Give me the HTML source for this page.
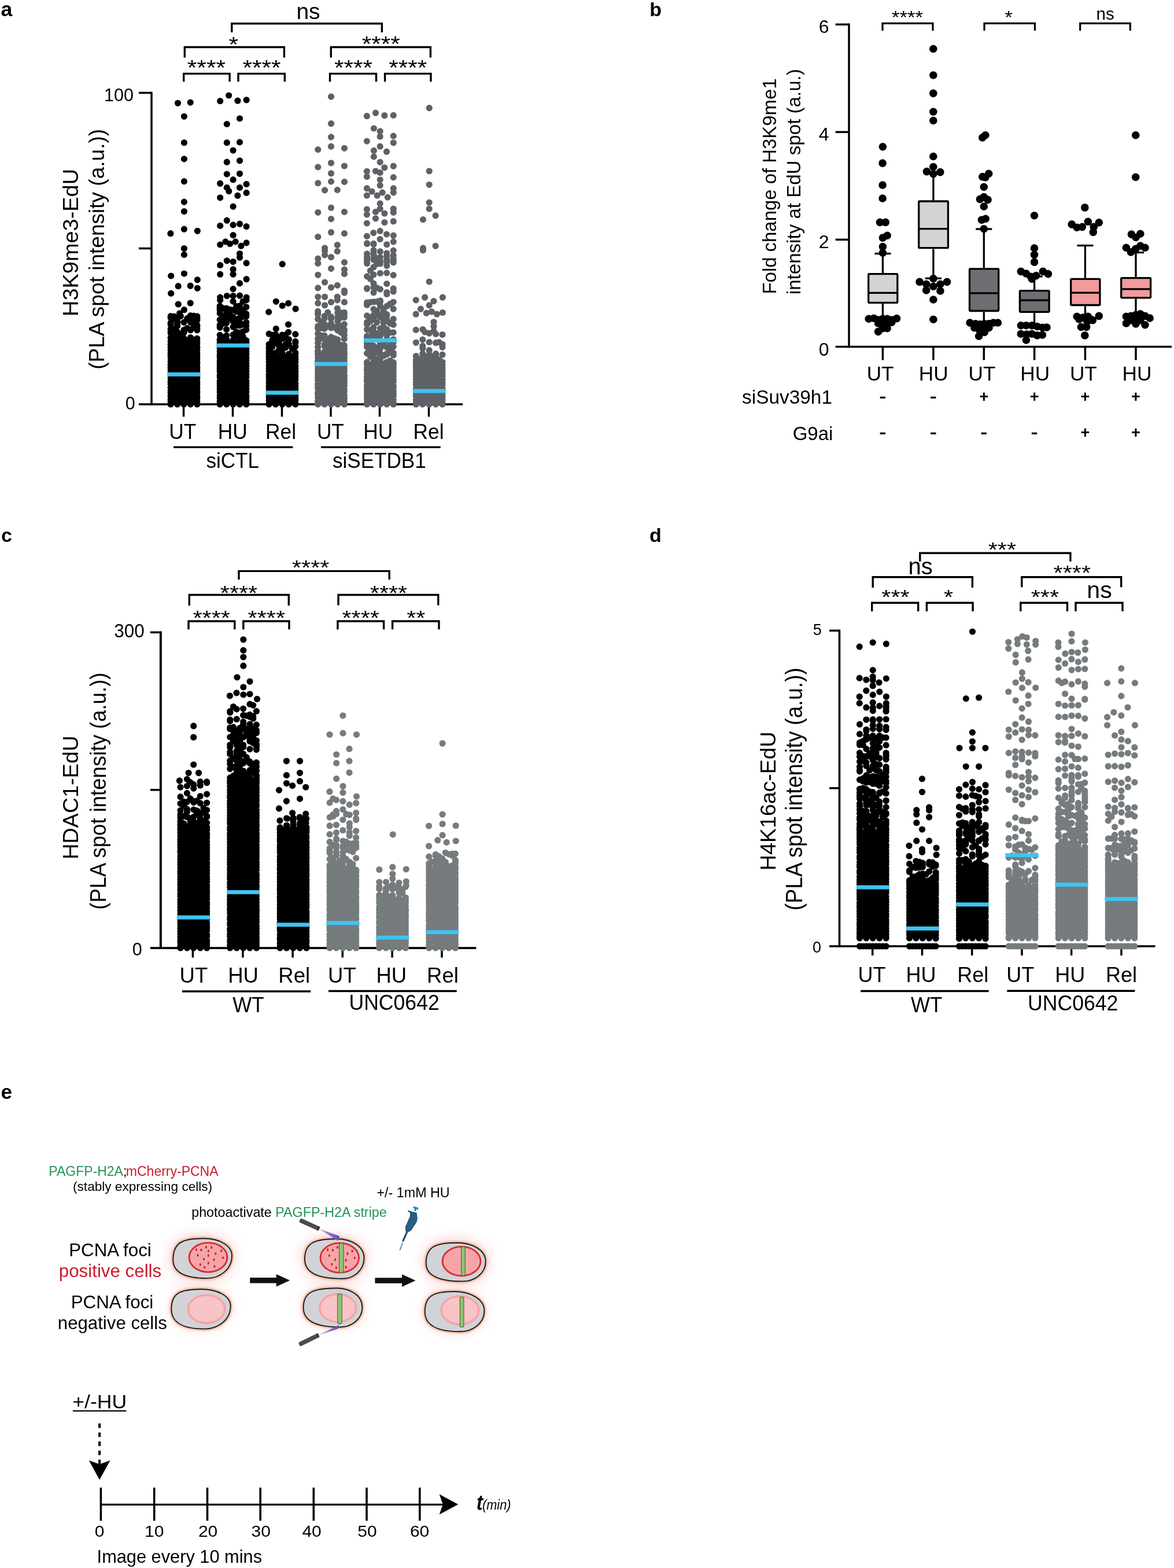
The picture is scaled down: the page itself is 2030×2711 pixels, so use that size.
<!DOCTYPE html>
<html><head><meta charset="utf-8"><title>Figure</title>
<style>html,body{margin:0;padding:0;background:#fff;}svg{display:block;}text{font-family:'Liberation Sans', Arial, sans-serif;}</style>
</head><body>
<svg width="2030" height="2711" viewBox="0 0 2030 2711">
<rect width="2030" height="2711" fill="#fff"/>
<text x="1.5" y="28" font-size="35.5" font-weight="bold" >a</text>
<line x1="262" y1="158.8" x2="262" y2="700.9" stroke="#000" stroke-width="3.5" stroke-linecap="butt"/>
<line x1="240" y1="160.5" x2="262" y2="160.5" stroke="#000" stroke-width="3.5" stroke-linecap="butt"/>
<line x1="240" y1="429.5" x2="262" y2="429.5" stroke="#000" stroke-width="3.5" stroke-linecap="butt"/>
<line x1="240" y1="699" x2="800" y2="699" stroke="#000" stroke-width="3.7" stroke-linecap="butt"/>
<line x1="317.5" y1="699" x2="317.5" y2="720.5" stroke="#000" stroke-width="3.5" stroke-linecap="butt"/>
<line x1="402.5" y1="699" x2="402.5" y2="720.5" stroke="#000" stroke-width="3.5" stroke-linecap="butt"/>
<line x1="487.5" y1="699" x2="487.5" y2="720.5" stroke="#000" stroke-width="3.5" stroke-linecap="butt"/>
<line x1="572" y1="699" x2="572" y2="720.5" stroke="#000" stroke-width="3.5" stroke-linecap="butt"/>
<line x1="656.5" y1="699" x2="656.5" y2="720.5" stroke="#000" stroke-width="3.5" stroke-linecap="butt"/>
<line x1="741.5" y1="699" x2="741.5" y2="720.5" stroke="#000" stroke-width="3.5" stroke-linecap="butt"/>
<text transform="translate(231,174.5) scale(1.000,1.050)" font-size="30.5" text-anchor="end" >100</text>
<text transform="translate(233.8,708.2) scale(1.000,1.050)" font-size="30.5" text-anchor="end" >0</text>
<text transform="translate(135,419.4) rotate(-90)" x="0" y="0" font-size="36" text-anchor="middle" fill="#000" textLength="255" lengthAdjust="spacingAndGlyphs">H3K9me3-EdU</text>
<text transform="translate(179.5,430.8) rotate(-90)" x="0" y="0" font-size="36" text-anchor="middle" fill="#000" textLength="416" lengthAdjust="spacingAndGlyphs">(PLA spot intensity (a.u.))</text>
<text transform="translate(315.7,758.6) scale(1.000,1.070)" font-size="35.3" text-anchor="middle" >UT</text>
<text transform="translate(402.3,758.6) scale(1.000,1.070)" font-size="35.3" text-anchor="middle" >HU</text>
<text transform="translate(485.5,758.6) scale(1.000,1.070)" font-size="35.3" text-anchor="middle" >Rel</text>
<text transform="translate(571.4,758.6) scale(1.000,1.070)" font-size="35.3" text-anchor="middle" >UT</text>
<text transform="translate(653.8,758.6) scale(1.000,1.070)" font-size="35.3" text-anchor="middle" >HU</text>
<text transform="translate(741,758.6) scale(1.000,1.070)" font-size="35.3" text-anchor="middle" >Rel</text>
<line x1="300" y1="773.2" x2="506.5" y2="773.2" stroke="#000" stroke-width="3.2" stroke-linecap="butt"/>
<line x1="555" y1="773.2" x2="761.8" y2="773.2" stroke="#000" stroke-width="3.2" stroke-linecap="butt"/>
<text transform="translate(402.2,809.4) scale(1.000,1.050)" font-size="35.1" text-anchor="middle" >siCTL</text>
<text transform="translate(655.8,809.4) scale(1.000,1.050)" font-size="35.1" text-anchor="middle" >siSETDB1</text>
<path d="M400.8 55.9V40.8H660.4V55.9" fill="none" stroke="#000" stroke-width="3.4" stroke-linejoin="miter"/>
<text x="533" y="32.6" font-size="39" text-anchor="middle" >ns</text>
<path d="M319.3 99.6V81.5H491.4V99.6" fill="none" stroke="#000" stroke-width="3.4" stroke-linejoin="miter"/>
<path d="M572.3 99.6V81.5H744.4V99.6" fill="none" stroke="#000" stroke-width="3.4" stroke-linejoin="miter"/>
<path d="M317.7 141.3V127.4H397.1V141.3" fill="none" stroke="#000" stroke-width="3.4" stroke-linejoin="miter"/>
<path d="M412 141.3V127.4H492.3V141.3" fill="none" stroke="#000" stroke-width="3.4" stroke-linejoin="miter"/>
<path d="M570.5 141.3V127.4H650.5V141.3" fill="none" stroke="#000" stroke-width="3.4" stroke-linejoin="miter"/>
<path d="M665.6 141.3V127.4H745V141.3" fill="none" stroke="#000" stroke-width="3.4" stroke-linejoin="miter"/>
<text transform="translate(403.8,89.9) scale(1.000,0.880)" font-size="42.5" text-anchor="middle" >*</text>
<text transform="translate(658.8,88.9) scale(1.000,0.880)" font-size="42.5" text-anchor="middle" >****</text>
<text transform="translate(356.9,129.7) scale(1.000,0.880)" font-size="42.5" text-anchor="middle" >****</text>
<text transform="translate(452.5,129.7) scale(1.000,0.880)" font-size="42.5" text-anchor="middle" >****</text>
<text transform="translate(611,129.7) scale(1.000,0.880)" font-size="42.5" text-anchor="middle" >****</text>
<text transform="translate(705.3,129.7) scale(1.000,0.880)" font-size="42.5" text-anchor="middle" >****</text>
<rect x="295.2" y="585" width="45.6" height="114" fill="#000"/>
<path d="M307.5 178.3h0M329.2 177.1h0M318.4 201.3h0M318.4 246.7h0M318.4 274.9h0M318.4 313.6h0M318.4 349.1h0M318.4 365.5h0M294.9 403.7h0M318.4 396.2h0M341.3 399.3h0M318.4 429.5h0M318.4 440.4h0M295.7 477h0M318.4 473h0M341.3 483.8h0M308.2 494.7h0M329.2 494.2h0M341.3 498.3h0M295.7 507.2h0M308.2 526h0M329.2 524h0M318.4 535.7h0M310.6 541.8h0M295.2 584.1h0M340.8 585.3h0M295.2 590.5h0M340.8 590.1h0M295.2 595.8h0M340.8 594.6h0M295.2 600.4h0M340.8 600.2h0M295.2 605.2h0M340.8 604.9h0M295.2 610.7h0M340.8 610.9h0M295.2 614.9h0M340.8 615.3h0M295.2 619.1h0M340.8 620.4h0M295.2 625.3h0M340.8 626h0M295.2 630.6h0M340.8 629.6h0M295.2 634.8h0M340.8 635.3h0M295.2 639h0M340.8 639.9h0M295.2 644.3h0M340.8 644.2h0M295.2 649.1h0M340.8 650.5h0M295.2 654.3h0M340.8 654.5h0M295.2 659.8h0M340.8 660.7h0M295.2 664.2h0M340.8 664.9h0M295.2 670.1h0M340.8 670.8h0M295.2 675.6h0M340.8 675.7h0M295.2 679.6h0M340.8 679.8h0M295.2 684.7h0M340.8 685.8h0M295.2 690.9h0M340.8 689.3h0M295.2 694.4h0M340.8 694.5h0M306.6 585h0M318 585h0M329.4 585h0M295.2 699h0M306.6 699h0M318 699h0M329.4 699h0M340.8 699h0M300.9 588.9h0M329.4 545.7h0M318 557.3h0M306.6 580.5h0M306.6 549.4h0M340.8 552.3h0M295.2 549.4h0M306.6 555.2h0M318 570.5h0M340.8 549.7h0M323.7 589.1h0M312.3 584.3h0M329.4 583.5h0M329.4 557.2h0M295.2 576.2h0M306.6 560.8h0M312.3 577.6h0M329.4 570.8h0M340.8 568.2h0M300.9 548.2h0M295.2 561.1h0M312.3 546.7h0M335.1 566.5h0M300.9 578.8h0M335.1 547.3h0M323.7 567.3h0M306.6 573.9h0M300.9 582h0M306.6 557.8h0M295.2 572.9h0M335.1 563.2h0M340.8 570.9h0M295.2 546.7h0M329.4 570.4h0M295.2 558.2h0M318 575.3h0M318 573.4h0M295.2 568.7h0M340.8 546.9h0M340.8 563.9h0M335.1 546.1h0M306.6 563.7h0M335.1 564.8h0M323.7 550.6h0M340.8 553.5h0M312.3 581.5h0M300.9 547.2h0M300.9 551h0M340.8 562.2h0M335.1 587.6h0M340.8 563.5h0M335.1 558.5h0M300.9 569.2h0M323.7 550.9h0M329.4 554.3h0" stroke="#000" stroke-width="11.2" stroke-linecap="round" fill="none"/>
<rect x="289.4" y="643.8" width="57.2" height="7" fill="#3ec3ef"/>
<rect x="380.2" y="588" width="45.6" height="111" fill="#000"/>
<path d="M395.7 165h0M380.7 174.7h0M410.9 174.2h0M426.1 172.8h0M414.5 204.9h0M392.3 214.5h0M392.3 246.7h0M414.5 245.9h0M403.1 260h0M392.3 280.2h0M414.5 277.8h0M392.3 301h0M414.5 300.3h0M403.1 310.7h0M380.7 317.2h0M426.1 318.4h0M392.3 324.4h0M395.7 330.5h0M414.5 324.4h0M426.1 333.4h0M380.7 341.8h0M410.9 338.2h0M403.1 357.1h0M392.3 381.2h0M380.7 390.4h0M403.1 388.9h0M414.5 387.2h0M426.1 391.6h0M403.1 406.6h0M380.7 423h0M389.9 417.9h0M397.6 421.5h0M407.2 417.9h0M416.9 425.2h0M426.1 419.9h0M414.5 438.5h0M414.5 445.2h0M392.3 450.8h0M403.1 452.5h0M380.7 458.5h0M426.1 454.9h0M403.1 465.7h0M380.7 474.2h0M403.1 474.2h0M414.5 489.9h0M426.1 482.7h0M403.1 499.6h0M380.7 514.1h0M392.3 511.6h0M403.1 511.6h0M414.5 511.2h0M426.1 514.1h0M380.7 518.9h0M426.1 518.9h0M380.2 587h0M425.8 588.5h0M380.2 593.1h0M425.8 592.4h0M380.2 597.9h0M425.8 598.9h0M380.2 602.2h0M425.8 603.6h0M380.2 607.9h0M425.8 608h0M380.2 613.7h0M425.8 612.8h0M380.2 618h0M425.8 618.4h0M380.2 624h0M425.8 622.7h0M380.2 628.7h0M425.8 628.4h0M380.2 633.3h0M425.8 632.8h0M380.2 637.7h0M425.8 637.1h0M380.2 642.3h0M425.8 642.1h0M380.2 648.5h0M425.8 647.5h0M380.2 652.3h0M425.8 652.2h0M380.2 658.7h0M425.8 658.7h0M380.2 663.3h0M425.8 662.6h0M380.2 667.5h0M425.8 667.6h0M380.2 672.9h0M425.8 672.3h0M380.2 677.9h0M425.8 677.5h0M380.2 683.9h0M425.8 683.9h0M380.2 688.1h0M425.8 687.5h0M380.2 693.9h0M425.8 692.6h0M380.2 697.7h0M425.8 697h0M391.6 588h0M403 588h0M414.4 588h0M380.2 699h0M391.6 699h0M403 699h0M414.4 699h0M425.8 699h0M403 536h0M420.1 581.9h0M403 565.2h0M380.2 579.3h0M391.6 580.1h0M403 521.1h0M420.1 583.8h0M403 552.3h0M414.4 549.4h0M391.6 533.1h0M414.4 562.9h0M391.6 569.4h0M391.6 558.4h0M385.9 587.2h0M380.2 552.8h0M425.8 542.7h0M425.8 557.9h0M414.4 532.2h0M380.2 533.2h0M391.6 591.1h0M391.6 535.9h0M408.7 552.3h0M420.1 539.8h0M391.6 591.4h0M420.1 521.3h0M391.6 541.7h0M414.4 535.5h0M408.7 529.7h0M408.7 534.4h0M397.3 550.7h0M391.6 546.3h0M385.9 559.2h0M385.9 548.1h0M403 548.2h0M385.9 583.4h0M391.6 545.2h0M414.4 557.5h0M408.7 562.7h0M414.4 538.3h0M380.2 532.5h0M380.2 566.2h0M420.1 547.5h0M391.6 586.7h0M408.7 538.6h0M425.8 570.1h0M414.4 577.6h0M420.1 537.4h0M414.4 575.3h0M385.9 533.1h0M425.8 557.3h0M408.7 574h0M391.6 541h0M385.9 589.2h0M425.8 547h0M397.3 537h0M397.3 535h0M414.4 539.8h0M414.4 550.3h0M380.2 541.7h0M408.7 581.1h0M385.9 587.6h0M414.4 551.1h0M425.8 530.8h0M380.2 536.3h0M414.4 528.9h0M380.2 588.3h0M425.8 543.7h0M397.3 544.1h0M391.6 547.9h0M420.1 561.2h0M380.2 529h0M380.2 562h0M403 590.3h0M385.9 551.9h0M425.8 563.6h0M403 578.7h0M380.2 565.2h0M403 555.9h0M420.1 573.3h0" stroke="#000" stroke-width="11.2" stroke-linecap="round" fill="none"/>
<rect x="374.4" y="593.8" width="57.2" height="7" fill="#3ec3ef"/>
<rect x="465.2" y="612" width="45.6" height="87" fill="#000"/>
<path d="M488.2 456.6h0M477.3 521.3h0M488.2 528.5h0M498.6 524.4h0M464.7 539.4h0M511.1 534h0M498.6 561h0M477.3 568.4h0M498.6 574.4h0M465.2 612.4h0M510.8 611.4h0M465.2 616.9h0M510.8 617.4h0M465.2 621.6h0M510.8 621.2h0M465.2 626.2h0M510.8 626.3h0M465.2 631.4h0M510.8 632.3h0M465.2 637h0M510.8 636.9h0M465.2 641.6h0M510.8 642.5h0M465.2 647.7h0M510.8 648h0M465.2 651.9h0M510.8 651.2h0M465.2 656.2h0M510.8 656.2h0M465.2 661.8h0M510.8 662.8h0M465.2 667.1h0M510.8 667.5h0M465.2 671.8h0M510.8 672.5h0M465.2 676.6h0M510.8 677.6h0M465.2 681.2h0M510.8 682.4h0M465.2 686.4h0M510.8 687.1h0M465.2 691.9h0M510.8 691.6h0M465.2 697.5h0M510.8 696.9h0M476.6 612h0M488 612h0M499.4 612h0M465.2 699h0M476.6 699h0M488 699h0M499.4 699h0M510.8 699h0M505.1 602.7h0M488 609.9h0M488 600.9h0M499.4 594.9h0M470.9 610.7h0M488 584.2h0M465.2 577.2h0M465.2 603.6h0M476.6 610.2h0M510.8 577.9h0M476.6 579.5h0M470.9 587.8h0M476.6 591.7h0M465.2 595.2h0M510.8 599h0M482.3 597.2h0M488 585.4h0M493.7 595.3h0M482.3 584.4h0M476.6 581h0M476.6 578.1h0M493.7 599.1h0M488 579h0M470.9 599.6h0M470.9 590.7h0M482.3 592.7h0M465.2 608.3h0M470.9 579.1h0M482.3 605.3h0M510.8 609.7h0M488 580h0M493.7 601h0M493.7 579h0M465.2 600.1h0M465.2 611.1h0M493.7 584.2h0M476.6 592.2h0M482.3 594.2h0M510.8 590.4h0M499.4 586.8h0M510.8 592.4h0" stroke="#000" stroke-width="11.2" stroke-linecap="round" fill="none"/>
<rect x="459.4" y="675.5" width="57.2" height="7" fill="#3ec3ef"/>
<rect x="549.7" y="608" width="45.6" height="91" fill="#5e6266"/>
<path d="M572.5 167.1h0M572.5 213.7h0M572.5 236.9h0M549.8 258.6h0M572.5 253.2h0M595.5 256.3h0M549.8 288.9h0M572.5 281.8h0M595.5 287h0M572.5 299.7h0M549.8 316.6h0M572.5 313.9h0M595.5 314.4h0M561.6 328.9h0M583.3 328.4h0M572.5 359.2h0M549.8 367.3h0M595.5 366.4h0M572.5 378.6h0M572.5 401.7h0M595.5 403.6h0M549.8 409.5h0M583.3 423.5h0M561.6 428.9h0M561.6 433.6h0M583.3 434.5h0M549.8 447.2h0M561.6 440.9h0M572.5 444.5h0M549.8 455.4h0M572.5 464.4h0M595.5 453.6h0M595.5 466.2h0M595.5 473.5h0M549.8 475.3h0M561.6 488h0M572.5 497h0M583.3 493.4h0M549.8 497.9h0M595.5 502.5h0M595.5 506.1h0M549.8 513.3h0M561.6 513.3h0M572.5 522.4h0M583.3 513.3h0M583.3 518.8h0M595.5 522.4h0M561.6 527.8h0M583.3 533.3h0M549.8 524.2h0M549.7 607h0M595.3 609h0M549.7 612.9h0M595.3 612.9h0M549.7 618.2h0M595.3 618.6h0M549.7 623.7h0M595.3 623.6h0M549.7 627.8h0M595.3 627.1h0M549.7 632.7h0M595.3 632.7h0M549.7 638.6h0M595.3 638h0M549.7 643.3h0M595.3 642.1h0M549.7 647.3h0M595.3 648.8h0M549.7 652.6h0M595.3 653.4h0M549.7 657.2h0M595.3 658.5h0M549.7 663.8h0M595.3 663.3h0M549.7 668.6h0M595.3 667.1h0M549.7 672.1h0M595.3 673.2h0M549.7 678.4h0M595.3 677.2h0M549.7 682.3h0M595.3 683.8h0M549.7 687.6h0M595.3 688.6h0M549.7 693.6h0M595.3 693.4h0M549.7 698.4h0M595.3 697.4h0M561.1 608h0M572.5 608h0M583.9 608h0M549.7 699h0M561.1 699h0M572.5 699h0M583.9 699h0M595.3 699h0M572.5 594.5h0M572.5 566.8h0M595.3 597.2h0M583.9 587.1h0M572.5 547.7h0M561.1 566.3h0M572.5 583.1h0M583.9 555.7h0M549.7 538.4h0M595.3 560.6h0M561.1 595.4h0M583.9 600.7h0M549.7 609.8h0M561.1 550.4h0M561.1 598.2h0M561.1 580.3h0M549.7 577h0M566.8 603.3h0M595.3 543.8h0M549.7 592.9h0M549.7 551.7h0M583.9 571.2h0M595.3 586h0M572.5 606.5h0M595.3 548.7h0M583.9 587.1h0M589.6 603.8h0M555.4 585.3h0M549.7 566.8h0M549.7 565.8h0M572.5 601.2h0M572.5 559.6h0M595.3 603.3h0M572.5 549.9h0M561.1 583.6h0M583.9 593.5h0M583.9 605.5h0M595.3 548.7h0M583.9 563.1h0M566.8 588.6h0M561.1 568.3h0M549.7 542h0M561.1 584.7h0M549.7 585.7h0M561.1 597.5h0M549.7 563.9h0M566.8 540.1h0M555.4 557.3h0M566.8 587.4h0M549.7 543.5h0M589.6 540.9h0M555.4 567.4h0M578.2 585h0M572.5 590.4h0M572.5 561.3h0M578.2 595h0M572.5 566.2h0M549.7 599.8h0M578.2 607.6h0M595.3 579.4h0M572.5 551.4h0M549.7 568.1h0M549.7 600.2h0M589.6 564.4h0M561.1 546.7h0M595.3 611.1h0M572.5 582.6h0M589.6 596.4h0M555.4 580h0M578.2 566.2h0M583.9 549.9h0M583.9 540.9h0M566.8 607.4h0M583.9 548.2h0M566.8 564.6h0M595.3 569.6h0M595.3 572.5h0M589.6 549.1h0M589.6 574.8h0M566.8 597.4h0M589.6 545.5h0M572.5 592.3h0M561.1 560.1h0M595.3 540.3h0" stroke="#5e6266" stroke-width="11.2" stroke-linecap="round" fill="none"/>
<rect x="543.9" y="625.8" width="57.2" height="7" fill="#3ec3ef"/>
<rect x="634.6" y="626" width="45.6" height="73" fill="#5e6266"/>
<path d="M634.4 200.7h0M649.5 195.2h0M664.9 199.7h0M680.3 199.4h0M646.4 222h0M657.2 226.9h0M657.2 236h0M680.3 235.1h0M634.4 244.1h0M680.3 246.8h0M657.2 253.2h0M646.4 260.4h0M668.5 262.2h0M646.4 270.9h0M657.2 280.4h0M664.9 289.8h0M680.3 287.2h0M634.4 296.3h0M649.5 295.8h0M657.2 298.5h0M634.4 305.4h0M680.3 306.6h0M657.2 310.8h0M657.2 320.6h0M634.4 325.7h0M680.3 325.7h0M643.1 331.1h0M661.2 332.9h0M680.3 332.9h0M634.4 338h0M652.2 338h0M670.3 341.1h0M657.2 351.9h0M657.2 361h0M634.4 361.9h0M649.5 366.4h0M664.9 369.1h0M680.3 361h0M680.3 367.3h0M634.4 370.9h0M649.5 377.8h0M664.9 384.5h0M680.3 382.7h0M634.4 386h0M645.8 402.6h0M657.2 399.4h0M668.5 405h0M680.3 407.2h0M634.4 408.4h0M657.2 413.5h0M680.3 418h0M634.6 626.2h0M680.2 626.5h0M634.6 630.3h0M680.2 630.6h0M634.6 636.4h0M680.2 636h0M634.6 640.6h0M680.2 640.9h0M634.6 645.9h0M680.2 647h0M634.6 651.4h0M680.2 650.4h0M634.6 655.7h0M680.2 656.3h0M634.6 660h0M680.2 660.1h0M634.6 666.5h0M680.2 667h0M634.6 671.6h0M680.2 670.2h0M634.6 676h0M680.2 676.5h0M634.6 680.3h0M680.2 680.4h0M634.6 685.8h0M680.2 685.3h0M634.6 690.2h0M680.2 691.3h0M634.6 695.7h0M680.2 696.6h0M646 626h0M657.4 626h0M668.8 626h0M634.6 699h0M646 699h0M657.4 699h0M668.8 699h0M680.2 699h0M657.4 596.6h0M668.8 588.5h0M646 597.8h0M657.4 548.1h0M657.4 529h0M657.4 620.5h0M646 629.6h0M657.4 472.4h0M657.4 579.6h0M657.4 434.9h0M668.8 554.9h0M668.8 443.5h0M646 582.3h0M668.8 600.5h0M657.4 500.1h0M646 421.3h0M680.2 591.4h0M646 552.1h0M634.6 597.1h0M646 521.9h0M668.8 471.9h0M668.8 529.4h0M657.4 567.9h0M634.6 524.8h0M657.4 451.2h0M668.8 576h0M634.6 557.2h0M646 505.9h0M668.8 508.6h0M646 461.8h0M646 627.9h0M663.1 629.1h0M634.6 581.2h0M651.7 601.3h0M668.8 422.7h0M668.8 587.2h0M680.2 551.5h0M657.4 611.2h0M651.7 627.4h0M640.3 581.5h0M634.6 594h0M646 565.9h0M680.2 522.3h0M668.8 490.5h0M663.1 629.5h0M680.2 628.4h0M634.6 421.5h0M680.2 574.8h0M668.8 459.4h0M646 611.5h0M663.1 567.5h0M634.6 527.4h0M634.6 600.1h0M663.1 573.1h0M657.4 589.3h0M646 534.6h0M663.1 565.3h0M640.3 601.2h0M646 432.8h0M646 449.1h0M634.6 444h0M674.5 525.3h0M646 573.4h0M634.6 498.3h0M668.8 611.5h0M668.8 580h0M674.5 526.2h0M651.7 585.3h0M663.1 557.6h0M680.2 610.2h0M646 565.9h0M674.5 607.9h0M680.2 448.3h0M634.6 545.9h0M634.6 582.6h0M663.1 565h0M634.6 569.8h0M663.1 553.1h0M640.3 595.3h0M651.7 576.6h0M646 474.8h0M651.7 621h0M657.4 519.8h0M640.3 522.5h0M668.8 569.5h0M657.4 591.6h0M674.5 594.1h0M674.5 559.2h0M646 438.1h0M634.6 527.3h0M634.6 477.9h0M646 622.2h0M634.6 610.9h0M640.3 604.3h0M657.4 545.8h0M646 439.8h0M680.2 534.2h0M640.3 598.5h0M680.2 450.1h0M680.2 498.9h0M640.3 548.8h0M674.5 605.1h0M651.7 602.4h0M634.6 499.3h0M634.6 451h0M680.2 441.8h0M663.1 539.4h0M668.8 546.3h0M634.6 455.5h0M646 490.1h0M680.2 599.3h0M651.7 521.5h0M646 599.8h0M657.4 444.6h0M634.6 447.4h0M657.4 580.5h0M680.2 475.7h0M640.3 555.8h0M646 621.3h0M640.3 468h0M680.2 586.8h0M640.3 594.5h0M646 610.1h0M646 582.6h0M646 544.6h0M668.8 626.4h0M634.6 560.7h0M668.8 437.8h0M668.8 449.1h0M680.2 450.9h0M680.2 504.1h0M651.7 609.7h0M663.1 555.1h0M640.3 482.2h0M651.7 446.7h0M646 497h0M674.5 625.7h0M634.6 583.5h0M680.2 453.7h0M657.4 602.8h0M668.8 505.5h0M657.4 455.7h0M663.1 534.7h0M634.6 420.7h0M674.5 575h0M640.3 616.6h0M668.8 452.9h0M651.7 557.3h0M674.5 589.9h0M651.7 545.2h0M680.2 614.1h0M674.5 623.5h0M651.7 456.3h0M651.7 537.7h0M634.6 591.2h0M651.7 497.7h0M674.5 606.3h0M651.7 623.8h0M634.6 438.8h0M663.1 596.7h0M680.2 504.1h0M663.1 615.2h0M646 422.4h0M663.1 544.9h0M657.4 598.2h0M657.4 521.7h0M640.3 570.9h0M680.2 561.2h0M668.8 544.3h0M657.4 612.1h0M674.5 595.8h0M663.1 548.9h0M668.8 572h0M680.2 433.1h0M668.8 553.1h0M646 446.1h0M668.8 612.9h0M668.8 543.7h0M663.1 614.4h0M651.7 539.5h0M634.6 523h0M674.5 624.7h0" stroke="#5e6266" stroke-width="11.2" stroke-linecap="round" fill="none"/>
<rect x="628.8" y="585" width="57.2" height="7" fill="#3ec3ef"/>
<rect x="719.4" y="626" width="45.6" height="73" fill="#5e6266"/>
<path d="M742.2 186.7h0M742.2 295.8h0M742.2 319.3h0M742.2 350.1h0M742.2 361h0M731.5 379.6h0M753.1 372.8h0M731.5 428.9h0M753.1 425.3h0M731.5 432.7h0M742.2 487h0M719.2 518.8h0M734.6 514.2h0M750 520.6h0M765.4 514.2h0M742.2 527.8h0M727.4 534.2h0M737.3 541.4h0M746.4 538.8h0M755.4 543.2h0M765.4 540.5h0M719.2 543.2h0M750 556.8h0M750 564h0M719.2 570.4h0M731 569.5h0M734.6 574h0M750 572.2h0M719.4 626.9h0M765 626h0M719.4 631.9h0M765 631.3h0M719.4 636h0M765 636.6h0M719.4 640.4h0M765 641.8h0M719.4 645.8h0M765 645.1h0M719.4 651.1h0M765 650.2h0M719.4 656.1h0M765 656.3h0M719.4 661.4h0M765 661.4h0M719.4 665h0M765 665h0M719.4 671.4h0M765 671.1h0M719.4 676.8h0M765 675.8h0M719.4 680.2h0M765 680h0M719.4 685.1h0M765 685.4h0M719.4 691.5h0M765 691.1h0M719.4 696.7h0M765 696.8h0M730.8 626h0M742.2 626h0M753.6 626h0M719.4 699h0M730.8 699h0M742.2 699h0M753.6 699h0M765 699h0M742.2 591.5h0M736.5 623.8h0M742.2 576.4h0M736.5 616.6h0M753.6 592.7h0M730.8 587.2h0M753.6 577.5h0M730.8 617.2h0M719.4 615.6h0M742.2 615.3h0M742.2 612.8h0M719.4 592.3h0M736.5 626.2h0M753.6 613.4h0M719.4 616.2h0M730.8 617.4h0M753.6 619h0M742.2 621.7h0M725.1 623.4h0M747.9 616.5h0M730.8 598.3h0M747.9 620.6h0M765 595.3h0M730.8 611.4h0M765 613.2h0M719.4 622.4h0M747.9 626.7h0M730.8 602.2h0M742.2 605.7h0M759.3 591.7h0M747.9 617.6h0M753.6 611.7h0M765 578.5h0M765 600.3h0M759.3 621.8h0" stroke="#5e6266" stroke-width="11.2" stroke-linecap="round" fill="none"/>
<rect x="713.6" y="672.5" width="57.2" height="7" fill="#3ec3ef"/>
<text x="1123.3" y="28" font-size="34" font-weight="bold" >b</text>
<line x1="1468" y1="40.6" x2="1468" y2="601.3" stroke="#000" stroke-width="3.5" stroke-linecap="butt"/>
<line x1="1444.7" y1="42.3" x2="1468" y2="42.3" stroke="#000" stroke-width="3.5" stroke-linecap="butt"/>
<line x1="1444.7" y1="228.3" x2="1468" y2="228.3" stroke="#000" stroke-width="3.5" stroke-linecap="butt"/>
<line x1="1444.7" y1="414.3" x2="1468" y2="414.3" stroke="#000" stroke-width="3.5" stroke-linecap="butt"/>
<line x1="1444.7" y1="599.5" x2="2026.2" y2="599.5" stroke="#000" stroke-width="3.5" stroke-linecap="butt"/>
<text x="1433.5" y="57.4" font-size="32" text-anchor="end" >6</text>
<text x="1433.5" y="243.4" font-size="32" text-anchor="end" >4</text>
<text x="1433.5" y="429.4" font-size="32" text-anchor="end" >2</text>
<text x="1433.5" y="614.6" font-size="32" text-anchor="end" >0</text>
<line x1="1526.4" y1="599.5" x2="1526.4" y2="622.5" stroke="#000" stroke-width="3.5" stroke-linecap="butt"/>
<text x="1522.1" y="658.4" font-size="35.2" text-anchor="middle" >UT</text>
<line x1="1613.9" y1="599.5" x2="1613.9" y2="622.5" stroke="#000" stroke-width="3.5" stroke-linecap="butt"/>
<text x="1614.2" y="658.4" font-size="35.2" text-anchor="middle" >HU</text>
<line x1="1701.3" y1="599.5" x2="1701.3" y2="622.5" stroke="#000" stroke-width="3.5" stroke-linecap="butt"/>
<text x="1698" y="658.4" font-size="35.2" text-anchor="middle" >UT</text>
<line x1="1788.6" y1="599.5" x2="1788.6" y2="622.5" stroke="#000" stroke-width="3.5" stroke-linecap="butt"/>
<text x="1789.7" y="658.4" font-size="35.2" text-anchor="middle" >HU</text>
<line x1="1876.4" y1="599.5" x2="1876.4" y2="622.5" stroke="#000" stroke-width="3.5" stroke-linecap="butt"/>
<text x="1873.4" y="658.4" font-size="35.2" text-anchor="middle" >UT</text>
<line x1="1964" y1="599.5" x2="1964" y2="622.5" stroke="#000" stroke-width="3.5" stroke-linecap="butt"/>
<text x="1965.9" y="658.4" font-size="35.2" text-anchor="middle" >HU</text>
<text x="1439" y="698.4" font-size="33.4" text-anchor="end" >siSuv39h1</text>
<text x="1440.4" y="761" font-size="33" text-anchor="end" >G9ai</text>
<text transform="translate(1526.4,695.3) scale(1.350,1.000)" font-size="27" text-anchor="middle" font-weight="bold" >-</text>
<text transform="translate(1526.4,756.5) scale(1.350,1.000)" font-size="27" text-anchor="middle" font-weight="bold" >-</text>
<text transform="translate(1613.9,695.3) scale(1.350,1.000)" font-size="27" text-anchor="middle" font-weight="bold" >-</text>
<text transform="translate(1613.9,756.5) scale(1.350,1.000)" font-size="27" text-anchor="middle" font-weight="bold" >-</text>
<text x="1701.3" y="695.3" font-size="27" text-anchor="middle" font-weight="bold" >+</text>
<text transform="translate(1701.3,756.5) scale(1.350,1.000)" font-size="27" text-anchor="middle" font-weight="bold" >-</text>
<text x="1788.6" y="695.3" font-size="27" text-anchor="middle" font-weight="bold" >+</text>
<text transform="translate(1788.6,756.5) scale(1.350,1.000)" font-size="27" text-anchor="middle" font-weight="bold" >-</text>
<text x="1876.4" y="695.3" font-size="27" text-anchor="middle" font-weight="bold" >+</text>
<text x="1876.4" y="756.5" font-size="27" text-anchor="middle" font-weight="bold" >+</text>
<text x="1964" y="695.3" font-size="27" text-anchor="middle" font-weight="bold" >+</text>
<text x="1964" y="756.5" font-size="27" text-anchor="middle" font-weight="bold" >+</text>
<path d="M1526 53.1V40.3H1613V53.1" fill="none" stroke="#000" stroke-width="3.2" stroke-linejoin="miter"/>
<path d="M1702 53.1V40.3H1789.4V53.1" fill="none" stroke="#000" stroke-width="3.2" stroke-linejoin="miter"/>
<path d="M1867.7 53.1V40.3H1954.3V53.1" fill="none" stroke="#000" stroke-width="3.2" stroke-linejoin="miter"/>
<text transform="translate(1569,41.2) scale(1.000,0.880)" font-size="35" text-anchor="middle" >****</text>
<text transform="translate(1744,41.2) scale(1.000,0.880)" font-size="35" text-anchor="middle" >*</text>
<text x="1911.2" y="34.4" font-size="29.5" text-anchor="middle" >ns</text>
<line x1="1526.4" y1="438.5" x2="1526.4" y2="472" stroke="#000" stroke-width="3.3" stroke-linecap="butt"/>
<line x1="1526.4" y1="525.1" x2="1526.4" y2="551" stroke="#000" stroke-width="3.3" stroke-linecap="butt"/>
<line x1="1512.4" y1="438.5" x2="1540.4" y2="438.5" stroke="#000" stroke-width="3.3" stroke-linecap="butt"/>
<line x1="1512.4" y1="551" x2="1540.4" y2="551" stroke="#000" stroke-width="3.3" stroke-linecap="butt"/>
<rect x="1501.7" y="473.6" width="50.1" height="49.8" rx="1.5" fill="#d2d3d5" stroke="#000" stroke-width="3.3" stroke-linejoin="round"/>
<line x1="1501.7" y1="506.4" x2="1551.8" y2="506.4" stroke="#000" stroke-width="3.3" stroke-linecap="butt"/>
<line x1="1613.9" y1="300" x2="1613.9" y2="346.4" stroke="#000" stroke-width="3.3" stroke-linecap="butt"/>
<line x1="1613.9" y1="430.4" x2="1613.9" y2="481.3" stroke="#000" stroke-width="3.3" stroke-linecap="butt"/>
<line x1="1599.9" y1="300" x2="1627.9" y2="300" stroke="#000" stroke-width="3.3" stroke-linecap="butt"/>
<line x1="1599.9" y1="481.3" x2="1627.9" y2="481.3" stroke="#000" stroke-width="3.3" stroke-linecap="butt"/>
<rect x="1588.7" y="348" width="50.7" height="80.7" rx="1.5" fill="#d2d3d5" stroke="#000" stroke-width="3.3" stroke-linejoin="round"/>
<line x1="1588.7" y1="395.7" x2="1639.3" y2="395.7" stroke="#000" stroke-width="3.3" stroke-linecap="butt"/>
<line x1="1701.3" y1="396" x2="1701.3" y2="463.3" stroke="#000" stroke-width="3.3" stroke-linecap="butt"/>
<line x1="1701.3" y1="539.2" x2="1701.3" y2="560" stroke="#000" stroke-width="3.3" stroke-linecap="butt"/>
<line x1="1687.3" y1="396" x2="1715.3" y2="396" stroke="#000" stroke-width="3.3" stroke-linecap="butt"/>
<line x1="1687.3" y1="560" x2="1715.3" y2="560" stroke="#000" stroke-width="3.3" stroke-linecap="butt"/>
<rect x="1676.5" y="464.9" width="50.2" height="72.6" rx="1.5" fill="#6d6e71" stroke="#000" stroke-width="3.3" stroke-linejoin="round"/>
<line x1="1676.5" y1="506.8" x2="1726.6" y2="506.8" stroke="#000" stroke-width="3.3" stroke-linecap="butt"/>
<line x1="1788.6" y1="478" x2="1788.6" y2="501" stroke="#000" stroke-width="3.3" stroke-linecap="butt"/>
<line x1="1788.6" y1="541" x2="1788.6" y2="563" stroke="#000" stroke-width="3.3" stroke-linecap="butt"/>
<line x1="1774.6" y1="478" x2="1802.6" y2="478" stroke="#000" stroke-width="3.3" stroke-linecap="butt"/>
<line x1="1774.6" y1="563" x2="1802.6" y2="563" stroke="#000" stroke-width="3.3" stroke-linecap="butt"/>
<rect x="1763.4" y="502.6" width="50.7" height="36.7" rx="1.5" fill="#6d6e71" stroke="#000" stroke-width="3.3" stroke-linejoin="round"/>
<line x1="1763.4" y1="519.2" x2="1814" y2="519.2" stroke="#000" stroke-width="3.3" stroke-linecap="butt"/>
<line x1="1876.4" y1="424.5" x2="1876.4" y2="480.8" stroke="#000" stroke-width="3.3" stroke-linecap="butt"/>
<line x1="1876.4" y1="529.2" x2="1876.4" y2="548" stroke="#000" stroke-width="3.3" stroke-linecap="butt"/>
<line x1="1862.4" y1="424.5" x2="1890.4" y2="424.5" stroke="#000" stroke-width="3.3" stroke-linecap="butt"/>
<line x1="1862.4" y1="548" x2="1890.4" y2="548" stroke="#000" stroke-width="3.3" stroke-linecap="butt"/>
<rect x="1851.7" y="482.4" width="50.2" height="45.1" rx="1.5" fill="#f29b9c" stroke="#000" stroke-width="3.3" stroke-linejoin="round"/>
<line x1="1851.7" y1="506.2" x2="1901.8" y2="506.2" stroke="#000" stroke-width="3.3" stroke-linecap="butt"/>
<line x1="1964" y1="436.5" x2="1964" y2="479" stroke="#000" stroke-width="3.3" stroke-linecap="butt"/>
<line x1="1964" y1="516.5" x2="1964" y2="546" stroke="#000" stroke-width="3.3" stroke-linecap="butt"/>
<line x1="1950" y1="436.5" x2="1978" y2="436.5" stroke="#000" stroke-width="3.3" stroke-linecap="butt"/>
<line x1="1950" y1="546" x2="1978" y2="546" stroke="#000" stroke-width="3.3" stroke-linecap="butt"/>
<rect x="1938.7" y="480.6" width="50.9" height="34.2" rx="1.5" fill="#f29b9c" stroke="#000" stroke-width="3.3" stroke-linejoin="round"/>
<line x1="1938.7" y1="499.8" x2="1989.5" y2="499.8" stroke="#000" stroke-width="3.3" stroke-linecap="butt"/>
<path d="M1526.4 253.8h0M1526.1 282.1h0M1526.1 320h0M1526.1 343h0M1521.5 384.4h0M1531.2 384.4h0M1526.4 411.1h0M1534.1 407.2h0M1526.4 426.6h0M1526.4 437.2h0M1502.2 551.2h0M1510.9 550.2h0M1518.6 553.1h0M1526.4 551.2h0M1534.1 551.2h0M1541.8 553.1h0M1550.5 550.6h0M1518.6 559h0M1526.4 560.9h0M1534.1 559h0M1541.8 557.1h0M1526.4 567.6h0M1534.1 567.6h0M1518.6 573.4h0M1613.8 84.5h0M1613.8 130h0M1613.8 161.4h0M1613.8 193.2h0M1613.8 208.5h0M1613.8 270.5h0M1613.8 288.6h0M1602.4 296.6h0M1613.8 300.7h0M1625.8 297.6h0M1590.1 487.4h0M1601.7 491.3h0M1613.9 481.6h0M1625.9 491.3h0M1637.5 487.4h0M1613.9 495.2h0M1601.7 501.9h0M1625.9 502.9h0M1613.9 518h0M1613.9 552.2h0M1698.8 237.9h0M1703.9 233.8h0M1698.8 305.6h0M1703.9 306.8h0M1709.7 300.2h0M1701.3 323.2h0M1694.5 344.4h0M1701.3 340.6h0M1708 345.4h0M1701.3 357h0M1697.4 380.2h0M1704.2 378.3h0M1701.3 395.7h0M1677.1 558h0M1686.8 559.9h0M1694.5 560.9h0M1702.2 559.9h0M1710 559.9h0M1717.7 558h0M1725.4 558h0M1684.8 566.7h0M1694.5 568.6h0M1702.2 567.6h0M1710 566.7h0M1702.2 574.4h0M1694.5 572.5h0M1692.6 581.2h0M1788.5 372.8h0M1788.5 429h0M1788.5 440.4h0M1788.5 453.1h0M1765.3 469.4h0M1774.4 473h0M1782.5 478.4h0M1784.3 482.1h0M1791.6 476.6h0M1803.4 469.4h0M1812.4 473.6h0M1765.3 562.7h0M1774.4 562.7h0M1784.3 562.7h0M1793.4 564.5h0M1802.5 566.3h0M1765.3 577.2h0M1784.3 577.2h0M1793.4 579.9h0M1802.5 579h0M1774.4 588h0M1810 566h0M1775 578h0M1875.8 358.9h0M1853.2 387.9h0M1862.2 393.3h0M1871.3 392.4h0M1881.3 383.3h0M1891.2 392.4h0M1900.3 384.8h0M1890.3 401.4h0M1862.2 547.3h0M1872.2 549.1h0M1881.3 547.3h0M1889.4 553.6h0M1900.3 546.4h0M1869.5 565.4h0M1878.6 565.4h0M1875.8 579.9h0M1866 552h0M1880 556h0M1963.7 233.7h0M1963.7 306.3h0M1956.4 405.1h0M1971.8 404.2h0M1964 410.5h0M1947.4 428.3h0M1955.5 435.9h0M1963.7 430.4h0M1971.8 425h0M1980 428.3h0M1947.4 547.3h0M1955.5 546.4h0M1963.7 544.6h0M1971.8 542.8h0M1980 546.4h0M1988.2 550h0M1947.4 559h0M1956.4 553.6h0M1963.7 555.4h0M1971.8 553.6h0M1980 561.8h0M1964 560h0" stroke="#000" stroke-width="13.6" stroke-linecap="round" fill="none"/>
<text transform="translate(1341.6,322) rotate(-90)" x="0" y="0" font-size="33.5" text-anchor="middle" fill="#000" textLength="373" lengthAdjust="spacingAndGlyphs">Fold change of H3K9me1</text>
<text transform="translate(1383.5,314.2) rotate(-90)" x="0" y="0" font-size="33.5" text-anchor="middle" fill="#000" textLength="390" lengthAdjust="spacingAndGlyphs">intensity at EdU spot (a.u.)</text>
<text x="2" y="937.3" font-size="34" font-weight="bold" >c</text>
<line x1="277.9" y1="1091.5" x2="277.9" y2="1640.9" stroke="#000" stroke-width="4" stroke-linecap="butt"/>
<line x1="259.8" y1="1093.3" x2="277.9" y2="1093.3" stroke="#000" stroke-width="3.5" stroke-linecap="butt"/>
<line x1="259.8" y1="1365.7" x2="277.9" y2="1365.7" stroke="#000" stroke-width="3.5" stroke-linecap="butt"/>
<line x1="259.8" y1="1639.1" x2="823.4" y2="1639.1" stroke="#000" stroke-width="3.6" stroke-linecap="butt"/>
<text transform="translate(249.8,1101.7) scale(1.000,1.050)" font-size="31.5" text-anchor="end" >300</text>
<text transform="translate(245.6,1652.1) scale(1.000,1.050)" font-size="30.5" text-anchor="end" >0</text>
<line x1="333.4" y1="1639" x2="333.4" y2="1655.6" stroke="#000" stroke-width="3.5" stroke-linecap="butt"/>
<line x1="419.9" y1="1639" x2="419.9" y2="1655.6" stroke="#000" stroke-width="3.5" stroke-linecap="butt"/>
<line x1="506.1" y1="1639" x2="506.1" y2="1655.6" stroke="#000" stroke-width="3.5" stroke-linecap="butt"/>
<line x1="592.3" y1="1639" x2="592.3" y2="1655.6" stroke="#000" stroke-width="3.5" stroke-linecap="butt"/>
<line x1="678.1" y1="1639" x2="678.1" y2="1655.6" stroke="#000" stroke-width="3.5" stroke-linecap="butt"/>
<line x1="764" y1="1639" x2="764" y2="1655.6" stroke="#000" stroke-width="3.5" stroke-linecap="butt"/>
<text x="334.9" y="1698.5" font-size="36.5" text-anchor="middle" >UT</text>
<text x="420.5" y="1698.5" font-size="36.5" text-anchor="middle" >HU</text>
<text x="508.7" y="1698.5" font-size="36.5" text-anchor="middle" >Rel</text>
<text x="591.4" y="1698.5" font-size="36.5" text-anchor="middle" >UT</text>
<text x="676.8" y="1698.5" font-size="36.5" text-anchor="middle" >HU</text>
<text x="765.5" y="1698.5" font-size="36.5" text-anchor="middle" >Rel</text>
<line x1="314.9" y1="1713.9" x2="537.1" y2="1713.9" stroke="#000" stroke-width="3.5" stroke-linecap="butt"/>
<line x1="568" y1="1713.4" x2="789.8" y2="1713.4" stroke="#000" stroke-width="3.5" stroke-linecap="butt"/>
<text transform="translate(429.5,1749.5) scale(1.000,1.040)" font-size="35" text-anchor="middle" >WT</text>
<text transform="translate(681.6,1746.4) scale(1.000,1.020)" font-size="35.6" text-anchor="middle" >UNC0642</text>
<text transform="translate(134.9,1378.8) rotate(-90)" x="0" y="0" font-size="37" text-anchor="middle" fill="#000" textLength="214" lengthAdjust="spacingAndGlyphs">HDAC1-EdU</text>
<text transform="translate(182.6,1367.8) rotate(-90) scale(1,1.070)" x="0" y="0" font-size="37" text-anchor="middle" fill="#000" textLength="410" lengthAdjust="spacingAndGlyphs">(PLA spot intensity (a.u.))</text>
<path d="M413 1002V987.4H673.2V1002" fill="none" stroke="#000" stroke-width="3.4" stroke-linejoin="miter"/>
<path d="M327.3 1047V1028.5H499.3V1047" fill="none" stroke="#000" stroke-width="3.4" stroke-linejoin="miter"/>
<path d="M585 1046.6V1028.5H757.8V1046.6" fill="none" stroke="#000" stroke-width="3.4" stroke-linejoin="miter"/>
<path d="M326 1088.2V1074H405.8V1088.2" fill="none" stroke="#000" stroke-width="3.4" stroke-linejoin="miter"/>
<path d="M420.8 1088.2V1074H500V1088.2" fill="none" stroke="#000" stroke-width="3.4" stroke-linejoin="miter"/>
<path d="M583.9 1088.2V1074H663.6V1088.2" fill="none" stroke="#000" stroke-width="3.4" stroke-linejoin="miter"/>
<path d="M678.6 1088.2V1074H759V1088.2" fill="none" stroke="#000" stroke-width="3.4" stroke-linejoin="miter"/>
<text transform="translate(537.2,993.2) scale(1.000,0.860)" font-size="41.4" text-anchor="middle" >****</text>
<text transform="translate(413,1037.3) scale(1.000,0.860)" font-size="41.4" text-anchor="middle" >****</text>
<text transform="translate(672,1037.3) scale(1.000,0.860)" font-size="41.4" text-anchor="middle" >****</text>
<text transform="translate(365.7,1080.3) scale(1.000,0.860)" font-size="41.4" text-anchor="middle" >****</text>
<text transform="translate(460.8,1080.3) scale(1.000,0.860)" font-size="41.4" text-anchor="middle" >****</text>
<text transform="translate(623.7,1080.3) scale(1.000,0.860)" font-size="41.4" text-anchor="middle" >****</text>
<text transform="translate(719.3,1080.3) scale(1.000,0.860)" font-size="41.4" text-anchor="middle" >**</text>
<rect x="312" y="1430" width="45.6" height="209" fill="#000"/>
<path d="M334.7 1255.2h0M334.7 1274.7h0M334.7 1322h0M326.1 1336.3h0M343.5 1336.3h0M310.4 1349.8h0M323.4 1347.3h0M346.2 1351.7h0M357.5 1351.7h0M312 1430.9h0M357.6 1430.1h0M312 1434.5h0M357.6 1435h0M312 1440h0M357.6 1440.9h0M312 1445.3h0M357.6 1445.2h0M312 1450.9h0M357.6 1449.2h0M312 1455.5h0M357.6 1455.3h0M312 1460.8h0M357.6 1460.8h0M312 1465.2h0M357.6 1465.4h0M312 1470.9h0M357.6 1470.4h0M312 1474.1h0M357.6 1474.6h0M312 1480.6h0M357.6 1479.7h0M312 1485.8h0M357.6 1484.8h0M312 1490.5h0M357.6 1491h0M312 1495.2h0M357.6 1494.4h0M312 1500.1h0M357.6 1499.7h0M312 1505.9h0M357.6 1504.9h0M312 1509.7h0M357.6 1510h0M312 1515.4h0M357.6 1515.7h0M312 1520.3h0M357.6 1520h0M312 1525.4h0M357.6 1524.4h0M312 1530.3h0M357.6 1530.7h0M312 1535.6h0M357.6 1535h0M312 1539.4h0M357.6 1540.9h0M312 1545.7h0M357.6 1545.1h0M312 1549.3h0M357.6 1549.3h0M312 1555.6h0M357.6 1554.5h0M312 1559.5h0M357.6 1560.9h0M312 1564.3h0M357.6 1564.7h0M312 1569.2h0M357.6 1570.3h0M312 1574.3h0M357.6 1575.4h0M312 1580h0M357.6 1580h0M312 1585.4h0M357.6 1584h0M312 1590.4h0M357.6 1589.3h0M312 1595.3h0M357.6 1595.4h0M312 1599.3h0M357.6 1600.4h0M312 1605.2h0M357.6 1604.5h0M312 1610.3h0M357.6 1609.2h0M312 1614.8h0M357.6 1615.9h0M312 1620.4h0M357.6 1619.3h0M312 1626h0M357.6 1625.7h0M312 1629.8h0M357.6 1629.4h0M312 1635.4h0M357.6 1634h0M323.4 1430h0M334.8 1430h0M346.2 1430h0M312 1639h0M323.4 1639h0M334.8 1639h0M346.2 1639h0M357.6 1639h0M329.1 1420.7h0M334.8 1387.3h0M334.8 1399.9h0M312 1427.4h0M323.4 1398.9h0M334.8 1363.1h0M346.2 1388.7h0M334.8 1420.6h0M329.1 1431.7h0M351.9 1420.6h0M346.2 1405.9h0M334.8 1412.4h0M312 1401.2h0M323.4 1412.6h0M357.6 1353.4h0M346.2 1417.9h0M312 1426.8h0M357.6 1400.5h0M312 1408.5h0M346.2 1358h0M351.9 1419.9h0M351.9 1423.3h0M357.6 1388h0M357.6 1430.6h0M317.7 1411.2h0M334.8 1356.4h0M351.9 1404.4h0M340.5 1430.3h0M312 1413.5h0M317.7 1430.9h0M357.6 1410.8h0M357.6 1412.4h0M346.2 1425.3h0M329.1 1429.1h0M323.4 1371.4h0M323.4 1386.5h0M329.1 1414.7h0M312 1389.3h0M329.1 1424.6h0M346.2 1408.4h0M323.4 1434h0M351.9 1397.2h0M329.1 1380.6h0M323.4 1399.5h0M346.2 1428.4h0M340.5 1401.5h0M329.1 1352.7h0M312 1361h0M346.2 1414.7h0M317.7 1423.9h0M340.5 1407.8h0M334.8 1385.3h0M340.5 1384.5h0M312 1425.3h0M340.5 1404.9h0M312 1419.9h0M340.5 1422.9h0M346.2 1376.5h0M317.7 1392.9h0M317.7 1386.1h0M323.4 1359h0M357.6 1422.4h0M357.6 1373.1h0M312 1377.7h0M312 1427h0M323.4 1403.6h0" stroke="#000" stroke-width="11.2" stroke-linecap="round" fill="none"/>
<rect x="306.2" y="1582.7" width="57.2" height="7" fill="#3ec3ef"/>
<rect x="397.8" y="1345" width="45.6" height="294" fill="#000"/>
<path d="M420.8 1105.8h0M420.8 1124.4h0M420.8 1136h0M420.8 1151.2h0M410 1171h0M432 1178.3h0M420.8 1188h0M397.4 1203h0M409 1198h0M420.8 1201h0M432 1200h0M444.5 1208.5h0M397.8 1344.6h0M443.4 1344.8h0M397.8 1350.4h0M443.4 1350.7h0M397.8 1354.3h0M443.4 1354h0M397.8 1359.4h0M443.4 1360.1h0M397.8 1365.7h0M443.4 1364.7h0M397.8 1369.7h0M443.4 1369.7h0M397.8 1375.4h0M443.4 1375.7h0M397.8 1379.3h0M443.4 1381h0M397.8 1385.1h0M443.4 1384.5h0M397.8 1390.2h0M443.4 1390.6h0M397.8 1395h0M443.4 1394.1h0M397.8 1400.3h0M443.4 1400.3h0M397.8 1405.1h0M443.4 1405.4h0M397.8 1410.1h0M443.4 1409.7h0M397.8 1415.1h0M443.4 1414.5h0M397.8 1419.5h0M443.4 1420.1h0M397.8 1424.2h0M443.4 1425.6h0M397.8 1431h0M443.4 1429.3h0M397.8 1435.3h0M443.4 1434.8h0M397.8 1441h0M443.4 1440.9h0M397.8 1445.2h0M443.4 1444.2h0M397.8 1450.1h0M443.4 1449.4h0M397.8 1455.6h0M443.4 1454.5h0M397.8 1460.2h0M443.4 1460.5h0M397.8 1465.8h0M443.4 1465.7h0M397.8 1470.7h0M443.4 1470.6h0M397.8 1475.1h0M443.4 1474.7h0M397.8 1480.4h0M443.4 1479.9h0M397.8 1485.7h0M443.4 1484.4h0M397.8 1490.8h0M443.4 1490.8h0M397.8 1494.8h0M443.4 1494.4h0M397.8 1500.6h0M443.4 1499.1h0M397.8 1505.3h0M443.4 1504h0M397.8 1510.6h0M443.4 1510.8h0M397.8 1515.3h0M443.4 1514.7h0M397.8 1519.5h0M443.4 1519.8h0M397.8 1525.8h0M443.4 1524.8h0M397.8 1530.3h0M443.4 1530.7h0M397.8 1534.1h0M443.4 1534h0M397.8 1540.4h0M443.4 1539.5h0M397.8 1544.7h0M443.4 1544.7h0M397.8 1549.9h0M443.4 1549.6h0M397.8 1555.8h0M443.4 1555h0M397.8 1561h0M443.4 1560.6h0M397.8 1565h0M443.4 1565.9h0M397.8 1570.5h0M443.4 1570.9h0M397.8 1574.3h0M443.4 1574.6h0M397.8 1579.2h0M443.4 1579h0M397.8 1585.7h0M443.4 1584.5h0M397.8 1589.6h0M443.4 1590.2h0M397.8 1595.9h0M443.4 1594.4h0M397.8 1599.1h0M443.4 1600.6h0M397.8 1605.7h0M443.4 1605.5h0M397.8 1609.1h0M443.4 1610.5h0M397.8 1614.9h0M443.4 1614.9h0M397.8 1619.3h0M443.4 1620.9h0M397.8 1625.4h0M443.4 1625.6h0M397.8 1629.3h0M443.4 1630.8h0M397.8 1634.3h0M443.4 1634.6h0M409.2 1345h0M420.6 1345h0M432 1345h0M397.8 1639h0M409.2 1639h0M420.6 1639h0M432 1639h0M443.4 1639h0M420.6 1317.3h0M420.6 1274.5h0M432 1316.9h0M420.6 1225.3h0M409.2 1313.2h0M409.2 1336.8h0M420.6 1259.4h0M420.6 1291.5h0M432 1295.2h0M420.6 1344.7h0M420.6 1248h0M443.4 1318.4h0M432 1281.7h0M409.2 1243.3h0M420.6 1332.8h0M409.2 1288.4h0M432 1332.5h0M409.2 1226.1h0M397.8 1292.1h0M443.4 1296.1h0M443.4 1340.1h0M432 1264.9h0M397.8 1315.2h0M432 1235.7h0M409.2 1339.6h0M409.2 1330.9h0M443.4 1332.4h0M437.7 1350.9h0M403.5 1311.7h0M432 1342.1h0M443.4 1280.3h0M432 1340.4h0M420.6 1288h0M409.2 1302h0M432 1252h0M409.2 1264h0M426.3 1311.8h0M426.3 1315.3h0M437.7 1283.4h0M443.4 1345.4h0M397.8 1321.1h0M443.4 1253.1h0M409.2 1277.3h0M397.8 1258.1h0M437.7 1260.6h0M409.2 1288.2h0M414.9 1312.9h0M397.8 1329.3h0M443.4 1229.7h0M403.5 1326.3h0M403.5 1311.9h0M437.7 1325.6h0M437.7 1284.6h0M426.3 1342.4h0M443.4 1325.3h0M432 1331.6h0M420.6 1303.4h0M414.9 1290.1h0M397.8 1274.4h0M443.4 1267.3h0M432 1263.3h0M443.4 1291.2h0M397.8 1260.4h0M414.9 1271.3h0M443.4 1346.4h0M414.9 1305.2h0M414.9 1333.2h0M437.7 1330.6h0M426.3 1271.5h0M443.4 1344h0M397.8 1351.7h0M426.3 1351.2h0M414.9 1266.2h0M414.9 1338.2h0M432 1319.9h0M414.9 1323.7h0M432 1344.9h0M409.2 1315.6h0M409.2 1298.1h0M437.7 1272.2h0M414.9 1332.9h0M414.9 1258.5h0M403.5 1341.1h0M397.8 1229.8h0M397.8 1244.4h0M437.7 1334.7h0M397.8 1287.8h0M409.2 1271.5h0M432 1217.4h0M443.4 1341.9h0M420.6 1319.5h0M409.2 1325.8h0M397.8 1300.1h0M409.2 1279.3h0M443.4 1267h0M397.8 1303.7h0M409.2 1324.2h0M432 1276.7h0M426.3 1267.4h0M443.4 1262.6h0M437.7 1321.1h0M437.7 1259.9h0M437.7 1322.9h0M443.4 1325.7h0M409.2 1243.5h0M414.9 1334.1h0M403.5 1275.9h0M414.9 1281.4h0M397.8 1230.6h0M426.3 1237.3h0M414.9 1264.8h0M409.2 1305.4h0M403.5 1221.8h0M443.4 1289.4h0M432 1239.2h0M397.8 1231.9h0M432 1280.7h0M426.3 1339.2h0M409.2 1271.1h0M403.5 1270.1h0M437.7 1242.4h0M420.6 1252.8h0M414.9 1349.2h0M437.7 1238.7h0M426.3 1313h0M409.2 1348.5h0M426.3 1341.5h0M432 1281h0M414.9 1294.1h0M397.8 1246.5h0M437.7 1219.3h0M403.5 1280.4h0M420.6 1340h0M432 1258.6h0M403.5 1348.8h0M414.9 1295.6h0M414.9 1264.9h0M403.5 1262.5h0M420.6 1236.6h0M426.3 1309.4h0M409.2 1312.1h0M432 1342.8h0M403.5 1257.2h0M443.4 1286.6h0M426.3 1260.5h0" stroke="#000" stroke-width="11.2" stroke-linecap="round" fill="none"/>
<rect x="392" y="1539" width="57.2" height="7" fill="#3ec3ef"/>
<rect x="484.2" y="1430" width="45.6" height="209" fill="#000"/>
<path d="M495.4 1315.8h0M518.5 1315.8h0M495.4 1340.4h0M518.5 1336.3h0M495.4 1354.3h0M518.5 1350.7h0M482.5 1366.1h0M505.6 1358.4h0M528.7 1361h0M495.4 1385.1h0M518.5 1381h0M482.5 1397.9h0M505.6 1405.6h0M528.7 1407.2h0M483.9 1418.8h0M496.4 1415.2h0M518.2 1412.8h0M529 1422.5h0M484.2 1430.5h0M529.8 1430h0M484.2 1434.5h0M529.8 1435.4h0M484.2 1439.6h0M529.8 1439.1h0M484.2 1444.9h0M529.8 1445.6h0M484.2 1450.4h0M529.8 1449.3h0M484.2 1454.8h0M529.8 1455.3h0M484.2 1460.9h0M529.8 1460h0M484.2 1465.5h0M529.8 1465.2h0M484.2 1470.3h0M529.8 1470.3h0M484.2 1474.1h0M529.8 1475.6h0M484.2 1480.6h0M529.8 1480.5h0M484.2 1485.7h0M529.8 1484.5h0M484.2 1490.2h0M529.8 1490.1h0M484.2 1495.8h0M529.8 1495.2h0M484.2 1500.9h0M529.8 1500.8h0M484.2 1504.1h0M529.8 1505.3h0M484.2 1509.8h0M529.8 1510.3h0M484.2 1515.5h0M529.8 1514.7h0M484.2 1519.8h0M529.8 1520.9h0M484.2 1524.5h0M529.8 1525.3h0M484.2 1530.6h0M529.8 1530.3h0M484.2 1535.8h0M529.8 1534.9h0M484.2 1539.6h0M529.8 1539.6h0M484.2 1545.2h0M529.8 1545.9h0M484.2 1550.8h0M529.8 1550h0M484.2 1554.8h0M529.8 1554.6h0M484.2 1559.3h0M529.8 1560.1h0M484.2 1564.2h0M529.8 1564.8h0M484.2 1569.9h0M529.8 1569.1h0M484.2 1574.7h0M529.8 1576h0M484.2 1579.4h0M529.8 1580.8h0M484.2 1584.8h0M529.8 1585.1h0M484.2 1589.5h0M529.8 1589.4h0M484.2 1595.3h0M529.8 1594.8h0M484.2 1600.8h0M529.8 1599.8h0M484.2 1604.7h0M529.8 1604.3h0M484.2 1609.3h0M529.8 1609.7h0M484.2 1615.6h0M529.8 1615.8h0M484.2 1620.9h0M529.8 1619.6h0M484.2 1624.6h0M529.8 1625.8h0M484.2 1630.6h0M529.8 1630.2h0M484.2 1635.7h0M529.8 1635.9h0M495.6 1430h0M507 1430h0M518.4 1430h0M484.2 1639h0M495.6 1639h0M507 1639h0M518.4 1639h0M529.8 1639h0M507 1426.1h0M518.4 1415h0M524.1 1431.3h0M484.2 1433.4h0M524.1 1430.1h0M524.1 1427.7h0M524.1 1424.5h0M507 1431.6h0M529.8 1432.5h0M495.6 1427h0M507 1415.3h0M529.8 1415.4h0M518.4 1423.9h0M507 1420.6h0M524.1 1421.3h0M495.6 1414.8h0M495.6 1428.2h0M507 1414.1h0M518.4 1425.7h0M507 1418.1h0M524.1 1422.2h0M524.1 1415.3h0" stroke="#000" stroke-width="11.2" stroke-linecap="round" fill="none"/>
<rect x="478.4" y="1595.3" width="57.2" height="7" fill="#3ec3ef"/>
<rect x="570.1" y="1505" width="45.6" height="134" fill="#767b7e"/>
<path d="M592.9 1237.3h0M570 1270h0M593 1267.6h0M616.5 1270h0M604 1294.7h0M581.7 1304.5h0M604 1315.8h0M581.7 1319.4h0M604 1335.8h0M581.7 1346.4h0M593 1359.3h0M570 1368.7h0M593 1370.4h0M616.5 1377h0M570.1 1504.2h0M615.7 1504h0M570.1 1510h0M615.7 1509.2h0M570.1 1515.9h0M615.7 1514.4h0M570.1 1519.9h0M615.7 1520.5h0M570.1 1524.9h0M615.7 1525h0M570.1 1531h0M615.7 1530.2h0M570.1 1535.2h0M615.7 1534.1h0M570.1 1540.1h0M615.7 1539.9h0M570.1 1545h0M615.7 1544.6h0M570.1 1550.9h0M615.7 1550.9h0M570.1 1555.1h0M615.7 1554.5h0M570.1 1560.1h0M615.7 1560.6h0M570.1 1564.6h0M615.7 1565.9h0M570.1 1570.2h0M615.7 1570.4h0M570.1 1574.4h0M615.7 1574.3h0M570.1 1580.6h0M615.7 1579.5h0M570.1 1584.7h0M615.7 1585.9h0M570.1 1589.5h0M615.7 1589.2h0M570.1 1594.2h0M615.7 1594.8h0M570.1 1600.9h0M615.7 1599.8h0M570.1 1605.3h0M615.7 1605.8h0M570.1 1609.1h0M615.7 1609.7h0M570.1 1615.1h0M615.7 1615.3h0M570.1 1619.5h0M615.7 1620.3h0M570.1 1625.2h0M615.7 1624.9h0M570.1 1630.9h0M615.7 1630.8h0M570.1 1635.2h0M615.7 1634.4h0M581.5 1505h0M592.9 1505h0M604.3 1505h0M570.1 1639h0M581.5 1639h0M592.9 1639h0M604.3 1639h0M615.7 1639h0M592.9 1465.8h0M581.5 1465.5h0M592.9 1385.4h0M604.3 1458.9h0M592.9 1417.3h0M592.9 1492.8h0M604.3 1470.3h0M604.3 1423.6h0M581.5 1503.6h0M604.3 1391.2h0M604.3 1408.8h0M581.5 1426.3h0M615.7 1465.9h0M587.2 1500h0M587.2 1505.3h0M570.1 1466.9h0M592.9 1435.5h0M610 1461.8h0M581.5 1407.4h0M570.1 1413.1h0M592.9 1454h0M604.3 1490.3h0M581.5 1383.1h0M581.5 1452.1h0M581.5 1492.1h0M615.7 1456.9h0M575.8 1461.3h0M570.1 1485.4h0M615.7 1462.6h0M570.1 1427.7h0M610 1494h0M615.7 1505.7h0M581.5 1461.2h0M615.7 1483.6h0M592.9 1479.6h0M575.8 1502.9h0M604.3 1439.4h0M575.8 1485.7h0M592.9 1490.1h0M592.9 1501.6h0M570.1 1455.7h0M570.1 1500.2h0M570.1 1471.6h0M581.5 1479h0M615.7 1448.2h0M575.8 1508.8h0M570.1 1470.3h0M581.5 1439.6h0M592.9 1485.5h0M581.5 1493.6h0M598.6 1504h0M604.3 1444.8h0M610 1472.8h0M598.6 1485.3h0M570.1 1495.8h0M598.6 1467.2h0M598.6 1456.2h0M598.6 1505.5h0M575.8 1500.7h0M615.7 1436.8h0M598.6 1455.3h0M570.1 1442.5h0M587.2 1497h0M570.1 1387.9h0M592.9 1399.5h0M592.9 1505.7h0M604.3 1496.7h0M610 1458.3h0M604.3 1430.2h0M592.9 1462.8h0M587.2 1488.1h0M575.8 1493.2h0M615.7 1405.3h0M575.8 1492.2h0M575.8 1380.8h0M581.5 1473h0M615.7 1415.1h0M581.5 1508.1h0M592.9 1503.1h0M581.5 1492.1h0M610 1499.7h0M587.2 1500.9h0M587.2 1502.3h0M598.6 1502.3h0M570.1 1471.8h0M575.8 1411.5h0M592.9 1473.6h0M581.5 1402.4h0M570.1 1474.8h0M575.8 1408.6h0M575.8 1483.3h0M592.9 1499.4h0M598.6 1407.7h0M598.6 1468.9h0M615.7 1417.5h0M615.7 1388.5h0M581.5 1450.1h0" stroke="#767b7e" stroke-width="11.2" stroke-linecap="round" fill="none"/>
<rect x="564.3" y="1592.3" width="57.2" height="7" fill="#3ec3ef"/>
<rect x="655.8" y="1552" width="45.6" height="87" fill="#767b7e"/>
<path d="M679.3 1442.8h0M655.8 1503.5h0M678.8 1499.2h0M702.3 1502.8h0M678.8 1511h0M678.8 1519.2h0M678.8 1529.8h0M655.8 1525h0M667.5 1525h0M690 1526.3h0M702.3 1524h0M702.3 1531h0M655.8 1551.7h0M701.4 1551.9h0M655.8 1557.9h0M701.4 1557.1h0M655.8 1561.1h0M701.4 1561.4h0M655.8 1567.5h0M701.4 1567.1h0M655.8 1572.7h0M701.4 1572.9h0M655.8 1577.7h0M701.4 1576.2h0M655.8 1582.9h0M701.4 1582h0M655.8 1586.5h0M701.4 1586.3h0M655.8 1592.7h0M701.4 1591.4h0M655.8 1596.2h0M701.4 1596.5h0M655.8 1602.8h0M701.4 1601.9h0M655.8 1607.5h0M701.4 1606.1h0M655.8 1611.9h0M701.4 1611.6h0M655.8 1616.4h0M701.4 1617.3h0M655.8 1621.7h0M701.4 1621.2h0M655.8 1628h0M701.4 1627h0M655.8 1631.4h0M701.4 1631h0M655.8 1637.3h0M701.4 1637h0M667.2 1552h0M678.6 1552h0M690 1552h0M655.8 1639h0M667.2 1639h0M678.6 1639h0M690 1639h0M701.4 1639h0M695.7 1543.3h0M678.6 1552.9h0M667.2 1536.2h0M655.8 1532.7h0M684.3 1534.2h0M661.5 1549.1h0M701.4 1533.2h0M655.8 1536.7h0M690 1537.4h0M678.6 1537.6h0M672.9 1533.6h0M690 1534.8h0M690 1541.2h0M667.2 1552.1h0M667.2 1540.8h0M695.7 1537.5h0M678.6 1547.9h0M678.6 1537.3h0M667.2 1542.6h0M655.8 1547.4h0M690 1534.8h0M695.7 1543h0M672.9 1550.4h0M690 1543.5h0M690 1542.5h0M678.6 1534.8h0M667.2 1541.1h0" stroke="#767b7e" stroke-width="11.2" stroke-linecap="round" fill="none"/>
<rect x="650" y="1617.5" width="57.2" height="7" fill="#3ec3ef"/>
<rect x="741.8" y="1498" width="45.6" height="141" fill="#767b7e"/>
<path d="M765.1 1285.3h0M765.1 1408h0M741.6 1428h0M765.1 1424.5h0M788.2 1427.5h0M765.1 1444h0M756.8 1452.7h0M772.2 1456.4h0M788.2 1454h0M741.6 1462.8h0M776.5 1477h0M741.8 1498h0M787.4 1498.4h0M741.8 1503.4h0M787.4 1503.3h0M741.8 1507.4h0M787.4 1508.9h0M741.8 1513.6h0M787.4 1512.5h0M741.8 1517.9h0M787.4 1518.9h0M741.8 1522.4h0M787.4 1522.8h0M741.8 1528.9h0M787.4 1528.8h0M741.8 1532.5h0M787.4 1533.5h0M741.8 1537.7h0M787.4 1538.3h0M741.8 1543.5h0M787.4 1542.3h0M741.8 1547.4h0M787.4 1547.4h0M741.8 1552.5h0M787.4 1552.1h0M741.8 1557.3h0M787.4 1557.8h0M741.8 1562.8h0M787.4 1562.2h0M741.8 1568.2h0M787.4 1568.9h0M741.8 1573.2h0M787.4 1572.7h0M741.8 1578.4h0M787.4 1577.9h0M741.8 1582.4h0M787.4 1583h0M741.8 1587h0M787.4 1588.4h0M741.8 1592.3h0M787.4 1592.7h0M741.8 1598.9h0M787.4 1598.5h0M741.8 1603.7h0M787.4 1603.3h0M741.8 1608.3h0M787.4 1608.4h0M741.8 1613.9h0M787.4 1612.4h0M741.8 1618.5h0M787.4 1617.6h0M741.8 1622.5h0M787.4 1623.6h0M741.8 1628.2h0M787.4 1628.7h0M741.8 1633.8h0M787.4 1633.2h0M741.8 1637.4h0M787.4 1637h0M753.2 1498h0M764.6 1498h0M776 1498h0M741.8 1639h0M753.2 1639h0M764.6 1639h0M776 1639h0M787.4 1639h0M764.6 1484.3h0M753.2 1477.3h0M770.3 1492.3h0M764.6 1496.4h0M747.5 1490h0M787.4 1487.2h0M770.3 1490.4h0M753.2 1499.1h0M753.2 1488.8h0M764.6 1496.4h0M741.8 1481.2h0M781.7 1496.6h0M753.2 1500.9h0M781.7 1499.2h0M787.4 1476.1h0M753.2 1491.5h0M758.9 1493.4h0M758.9 1480.6h0M787.4 1488.7h0M741.8 1492.8h0M758.9 1480.8h0M781.7 1476.1h0M758.9 1488.4h0M753.2 1494.8h0M758.9 1497.8h0M764.6 1485.8h0M787.4 1492.4h0M770.3 1474.3h0M741.8 1493h0M753.2 1479.4h0M781.7 1479.1h0" stroke="#767b7e" stroke-width="11.2" stroke-linecap="round" fill="none"/>
<rect x="736" y="1608.1" width="57.2" height="7" fill="#3ec3ef"/>
<text x="1123" y="937" font-size="34" font-weight="bold" >d</text>
<line x1="1451.5" y1="1088.6" x2="1451.5" y2="1637.9" stroke="#000" stroke-width="3.5" stroke-linecap="butt"/>
<line x1="1434" y1="1090.3" x2="1451.5" y2="1090.3" stroke="#000" stroke-width="3.5" stroke-linecap="butt"/>
<line x1="1434" y1="1362.7" x2="1451.5" y2="1362.7" stroke="#000" stroke-width="3.5" stroke-linecap="butt"/>
<line x1="1434" y1="1636.1" x2="1997.5" y2="1636.1" stroke="#000" stroke-width="3.5" stroke-linecap="butt"/>
<text x="1420.8" y="1098.3" font-size="27" text-anchor="end" >5</text>
<text x="1420" y="1647" font-size="27" text-anchor="end" >0</text>
<line x1="1508.7" y1="1636" x2="1508.7" y2="1652" stroke="#000" stroke-width="3.5" stroke-linecap="butt"/>
<line x1="1594.5" y1="1636" x2="1594.5" y2="1652" stroke="#000" stroke-width="3.5" stroke-linecap="butt"/>
<line x1="1680.7" y1="1636" x2="1680.7" y2="1652" stroke="#000" stroke-width="3.5" stroke-linecap="butt"/>
<line x1="1767" y1="1636" x2="1767" y2="1652" stroke="#000" stroke-width="3.5" stroke-linecap="butt"/>
<line x1="1852.6" y1="1636" x2="1852.6" y2="1652" stroke="#000" stroke-width="3.5" stroke-linecap="butt"/>
<line x1="1939" y1="1636" x2="1939" y2="1652" stroke="#000" stroke-width="3.5" stroke-linecap="butt"/>
<text x="1507.6" y="1697.8" font-size="36" text-anchor="middle" >UT</text>
<text x="1592.6" y="1697.8" font-size="36" text-anchor="middle" >HU</text>
<text x="1682.2" y="1697.8" font-size="36" text-anchor="middle" >Rel</text>
<text x="1764.3" y="1697.8" font-size="36" text-anchor="middle" >UT</text>
<text x="1850.3" y="1697.8" font-size="36" text-anchor="middle" >HU</text>
<text x="1939" y="1697.8" font-size="36" text-anchor="middle" >Rel</text>
<line x1="1488.2" y1="1713.5" x2="1709.7" y2="1713.5" stroke="#000" stroke-width="3.5" stroke-linecap="butt"/>
<line x1="1741.4" y1="1713.3" x2="1962.4" y2="1713.3" stroke="#000" stroke-width="3.5" stroke-linecap="butt"/>
<text transform="translate(1602.2,1750) scale(1.000,1.040)" font-size="35" text-anchor="middle" >WT</text>
<text transform="translate(1855.2,1747.3) scale(1.000,1.020)" font-size="35.6" text-anchor="middle" >UNC0642</text>
<text transform="translate(1340.7,1384.9) rotate(-90)" x="0" y="0" font-size="37" text-anchor="middle" fill="#000" textLength="240" lengthAdjust="spacingAndGlyphs">H4K16ac-EdU</text>
<text transform="translate(1387,1364.2) rotate(-90) scale(1,1.080)" x="0" y="0" font-size="37" text-anchor="middle" fill="#000" textLength="420" lengthAdjust="spacingAndGlyphs">(PLA spot intensity (a.u.))</text>
<path d="M1590.8 970.8V956.3H1850.9V970.8" fill="none" stroke="#000" stroke-width="3.4" stroke-linejoin="miter"/>
<path d="M1509.2 1016V997.8H1681.4V1016" fill="none" stroke="#000" stroke-width="3.4" stroke-linejoin="miter"/>
<path d="M1766.8 1015.3V997.7H1938.7V1015.3" fill="none" stroke="#000" stroke-width="3.4" stroke-linejoin="miter"/>
<path d="M1507.7 1057V1042.3H1587.7V1057" fill="none" stroke="#000" stroke-width="3.4" stroke-linejoin="miter"/>
<path d="M1602.4 1057V1042.3H1682.1V1057" fill="none" stroke="#000" stroke-width="3.4" stroke-linejoin="miter"/>
<path d="M1764.8 1057V1042.3H1845.5V1057" fill="none" stroke="#000" stroke-width="3.4" stroke-linejoin="miter"/>
<path d="M1860 1057V1042.3H1941V1057" fill="none" stroke="#000" stroke-width="3.4" stroke-linejoin="miter"/>
<text transform="translate(1732.9,962.3) scale(1.000,0.860)" font-size="41.4" text-anchor="middle" >***</text>
<text transform="translate(1853.8,1002.4) scale(1.000,0.860)" font-size="41.4" text-anchor="middle" >****</text>
<text transform="translate(1548.5,1043.6) scale(1.000,0.860)" font-size="41.4" text-anchor="middle" >***</text>
<text transform="translate(1640.1,1043.6) scale(1.000,0.860)" font-size="41.4" text-anchor="middle" >*</text>
<text transform="translate(1806.9,1043.9) scale(1.000,0.860)" font-size="41.4" text-anchor="middle" >***</text>
<text x="1591.7" y="993" font-size="40" text-anchor="middle" >ns</text>
<text x="1901" y="1034" font-size="41" text-anchor="middle" >ns</text>
<rect x="1486.5" y="1435" width="45.6" height="187" fill="#000"/>
<path d="M1486.2 1118.1h0M1509.2 1110.8h0M1532.4 1113.2h0M1509.2 1158.6h0M1486.2 1172.4h0M1497.8 1175.3h0M1509.2 1170h0M1509.2 1176h0M1532.4 1173.1h0M1520 1180.1h0M1509.2 1185.7h0M1497.8 1194.2h0M1520.8 1196.1h0M1486.2 1204.5h0M1509.2 1201.4h0M1532.4 1204.5h0M1486.2 1215.9h0M1509.2 1214.7h0M1532.4 1215.9h0M1486.5 1435.7h0M1532.1 1435.4h0M1486.5 1440.4h0M1532.1 1439.4h0M1486.5 1444.9h0M1532.1 1444.3h0M1486.5 1449.4h0M1532.1 1449.3h0M1486.5 1454.9h0M1532.1 1454.1h0M1486.5 1459.3h0M1532.1 1460.4h0M1486.5 1465.2h0M1532.1 1464.5h0M1486.5 1469.4h0M1532.1 1470.3h0M1486.5 1474.1h0M1532.1 1475.5h0M1486.5 1480.6h0M1532.1 1480.8h0M1486.5 1484.3h0M1532.1 1485.6h0M1486.5 1490.1h0M1532.1 1489.5h0M1486.5 1495.6h0M1532.1 1494.5h0M1486.5 1499.3h0M1532.1 1500.7h0M1486.5 1506h0M1532.1 1505.4h0M1486.5 1509.2h0M1532.1 1509.9h0M1486.5 1515.2h0M1532.1 1514.4h0M1486.5 1520.7h0M1532.1 1519.8h0M1486.5 1525h0M1532.1 1525h0M1486.5 1529h0M1532.1 1530.7h0M1486.5 1535.7h0M1532.1 1535.8h0M1486.5 1540.1h0M1532.1 1539.8h0M1486.5 1544.6h0M1532.1 1544.3h0M1486.5 1549.4h0M1532.1 1550.1h0M1486.5 1554.8h0M1532.1 1555.4h0M1486.5 1561h0M1532.1 1559.5h0M1486.5 1565.7h0M1532.1 1564.7h0M1486.5 1569.9h0M1532.1 1569.6h0M1486.5 1575.3h0M1532.1 1574.9h0M1486.5 1579.3h0M1532.1 1580.2h0M1486.5 1584.2h0M1532.1 1584.6h0M1486.5 1589.8h0M1532.1 1590.7h0M1486.5 1595.5h0M1532.1 1595.2h0M1486.5 1599.9h0M1532.1 1599.6h0M1486.5 1605h0M1532.1 1604.9h0M1486.5 1610h0M1532.1 1610h0M1486.5 1614.5h0M1532.1 1614.7h0M1486.5 1619.8h0M1532.1 1619.1h0M1497.9 1435h0M1509.3 1435h0M1520.7 1435h0M1486.5 1622h0M1497.9 1622h0M1509.3 1622h0M1520.7 1622h0M1532.1 1622h0M1486.5 1636h0M1492.2 1636h0M1497.9 1636h0M1503.6 1636h0M1509.3 1636h0M1515 1636h0M1520.7 1636h0M1526.4 1636h0M1532.1 1636h0M1509.3 1272h0M1532.1 1426.4h0M1509.3 1293.6h0M1509.3 1377.3h0M1509.3 1423.1h0M1520.7 1437.1h0M1509.3 1342.2h0M1497.9 1376h0M1497.9 1421.4h0M1486.5 1424.5h0M1497.9 1278.4h0M1509.3 1243.9h0M1520.7 1371.8h0M1509.3 1314.2h0M1509.3 1427.7h0M1509.3 1400.8h0M1520.7 1403.3h0M1532.1 1424.1h0M1526.4 1428h0M1526.4 1425.4h0M1497.9 1324.2h0M1486.5 1429.9h0M1497.9 1307.5h0M1509.3 1228.9h0M1520.7 1420.8h0M1520.7 1292.6h0M1497.9 1402.1h0M1497.9 1263.7h0M1532.1 1301.8h0M1486.5 1283.9h0M1497.9 1432h0M1520.7 1310.8h0M1497.9 1223.2h0M1497.9 1432h0M1520.7 1333.6h0M1509.3 1420h0M1497.9 1436.7h0M1509.3 1355h0M1532.1 1371.8h0M1520.7 1420.4h0M1486.5 1301.7h0M1497.9 1340.7h0M1497.9 1364.6h0M1509.3 1428.2h0M1497.9 1244.3h0M1520.7 1272.2h0M1520.7 1344.8h0M1509.3 1328.3h0M1532.1 1395.6h0M1520.7 1220.6h0M1532.1 1229.9h0M1492.2 1307.4h0M1486.5 1393.9h0M1486.5 1331.7h0M1515 1404.9h0M1532.1 1275.4h0M1532.1 1329.2h0M1526.4 1339.8h0M1497.9 1390.2h0M1486.5 1269.1h0M1486.5 1406.2h0M1515 1323h0M1486.5 1348.1h0M1503.6 1331.9h0M1486.5 1325.7h0M1503.6 1431.6h0M1492.2 1404.8h0M1486.5 1364.1h0M1509.3 1274.1h0M1532.1 1354.2h0M1520.7 1356.9h0M1532.1 1432.5h0M1532.1 1407.8h0M1503.6 1307.9h0M1492.2 1309.6h0M1509.3 1303.9h0M1520.7 1273h0M1520.7 1426.2h0M1532.1 1222.2h0M1515 1321.1h0M1486.5 1431.9h0M1532.1 1312.8h0M1520.7 1254.9h0M1515 1277.4h0M1532.1 1350.5h0M1509.3 1389.6h0M1497.9 1276.9h0M1497.9 1352.9h0M1532.1 1361.2h0M1520.7 1281.9h0M1486.5 1399.9h0M1497.9 1405.3h0M1486.5 1316.6h0M1503.6 1416.4h0M1497.9 1294.9h0M1515 1351.3h0M1520.7 1243.8h0M1526.4 1427.6h0M1497.9 1438.8h0M1509.3 1397.3h0M1492.2 1348.3h0M1520.7 1399.1h0M1532.1 1433.7h0M1497.9 1345.6h0M1520.7 1354.1h0M1532.1 1305.3h0M1486.5 1376h0M1492.2 1281.1h0M1509.3 1394.6h0M1486.5 1333.6h0M1532.1 1307.8h0M1503.6 1344.5h0M1509.3 1223.5h0M1503.6 1307.3h0M1503.6 1411.1h0M1503.6 1275.8h0M1509.3 1260.1h0M1532.1 1343h0M1509.3 1324h0M1486.5 1417.2h0M1520.7 1358.4h0M1492.2 1345.8h0M1532.1 1220.9h0M1492.2 1350.7h0M1509.3 1224.1h0M1532.1 1288.4h0M1509.3 1369.7h0M1497.9 1414h0M1526.4 1404.3h0M1486.5 1287.9h0M1492.2 1287.9h0M1503.6 1413h0M1509.3 1285.1h0M1532.1 1261.9h0M1509.3 1352.9h0M1526.4 1439.7h0M1497.9 1276.7h0M1503.6 1344.6h0M1492.2 1425.4h0M1520.7 1386.1h0M1486.5 1380.7h0M1515 1289.3h0M1515 1418h0M1509.3 1410.2h0M1486.5 1252.3h0M1515 1303.6h0M1509.3 1305.5h0M1520.7 1274.2h0M1486.5 1413.5h0M1492.2 1402.1h0M1532.1 1423.4h0M1532.1 1325.9h0M1509.3 1379.7h0M1509.3 1439.7h0M1503.6 1302.5h0M1509.3 1379.6h0M1492.2 1411.1h0M1503.6 1390.9h0M1515 1300h0M1532.1 1257.1h0M1515 1422.2h0M1520.7 1436.1h0M1515 1410.2h0M1492.2 1307.7h0M1492.2 1414.4h0M1509.3 1372.2h0M1497.9 1386.2h0M1526.4 1343.6h0M1532.1 1243.5h0M1497.9 1271.9h0M1515 1295.4h0M1503.6 1368.7h0M1497.9 1261.5h0M1520.7 1403.5h0M1515 1355.2h0M1532.1 1384.5h0M1532.1 1422h0M1486.5 1308.1h0M1497.9 1392.4h0M1515 1424.8h0M1515 1379.7h0M1503.6 1384.7h0M1503.6 1351.8h0M1503.6 1343.9h0M1526.4 1368.8h0M1486.5 1389.2h0M1532.1 1335.6h0M1503.6 1389.4h0M1509.3 1245.9h0M1486.5 1433.8h0M1515 1301.5h0M1520.7 1439.8h0M1503.6 1372.1h0M1532.1 1384h0M1526.4 1349.3h0M1486.5 1364.7h0M1526.4 1275.2h0M1526.4 1412.3h0M1492.2 1366.7h0M1492.2 1379.4h0M1503.6 1386.5h0M1492.2 1362.5h0M1515 1391.7h0M1520.7 1424.2h0M1515 1408.4h0M1492.2 1315.8h0M1515 1343h0M1503.6 1303.3h0M1520.7 1322.1h0M1509.3 1253.9h0M1492.2 1282.4h0M1497.9 1365.8h0M1515 1309h0M1486.5 1370.6h0M1520.7 1260.6h0M1503.6 1417.4h0M1520.7 1432.9h0M1497.9 1426h0M1515 1331.8h0M1520.7 1392.2h0M1520.7 1370.7h0M1532.1 1418.8h0M1532.1 1405.9h0M1497.9 1318.3h0M1532.1 1332.4h0M1532.1 1225.2h0" stroke="#000" stroke-width="11.2" stroke-linecap="round" fill="none"/>
<rect x="1480.7" y="1530.5" width="57.2" height="7" fill="#3ec3ef"/>
<rect x="1572.5" y="1522" width="45.6" height="100" fill="#000"/>
<path d="M1594.4 1346.6h0M1594.5 1369.3h0M1584.8 1400.7h0M1606.6 1395.9h0M1584.8 1408h0M1606.6 1400.7h0M1606.6 1412.8h0M1584.8 1422.5h0M1594.5 1434h0M1584.8 1453.9h0M1606.6 1453.9h0M1572 1462.3h0M1619.1 1466h0M1594.5 1468.4h0M1594.5 1473.2h0M1572 1480.4h0M1619.1 1478h0M1572.5 1522.2h0M1618.1 1521.3h0M1572.5 1526.7h0M1618.1 1527.8h0M1572.5 1531h0M1618.1 1532.4h0M1572.5 1536.1h0M1618.1 1537.4h0M1572.5 1542.3h0M1618.1 1541.6h0M1572.5 1547.5h0M1618.1 1546.2h0M1572.5 1551.4h0M1618.1 1552.9h0M1572.5 1557.2h0M1618.1 1557.9h0M1572.5 1562.1h0M1618.1 1561h0M1572.5 1566.1h0M1618.1 1566.6h0M1572.5 1571.6h0M1618.1 1572.9h0M1572.5 1577.3h0M1618.1 1577h0M1572.5 1582.2h0M1618.1 1582.8h0M1572.5 1586.8h0M1618.1 1587.1h0M1572.5 1591.8h0M1618.1 1592.6h0M1572.5 1597.7h0M1618.1 1597.9h0M1572.5 1601.4h0M1618.1 1601.5h0M1572.5 1607.9h0M1618.1 1607h0M1572.5 1611.3h0M1618.1 1611.6h0M1572.5 1616.1h0M1618.1 1616.2h0M1572.5 1621.9h0M1618.1 1622.6h0M1583.9 1522h0M1595.3 1522h0M1606.7 1522h0M1572.5 1622h0M1583.9 1622h0M1595.3 1622h0M1606.7 1622h0M1618.1 1622h0M1572.5 1636h0M1578.2 1636h0M1583.9 1636h0M1589.6 1636h0M1595.3 1636h0M1601 1636h0M1606.7 1636h0M1612.4 1636h0M1618.1 1636h0M1595.3 1499h0M1606.7 1506.8h0M1583.9 1500.2h0M1606.7 1525h0M1618.1 1497.1h0M1578.2 1515.8h0M1583.9 1515.2h0M1606.7 1494.2h0M1572.5 1505.2h0M1583.9 1518.6h0M1589.6 1490.3h0M1618.1 1512.1h0M1618.1 1519.4h0M1572.5 1493.6h0M1612.4 1517.9h0M1618.1 1519.7h0M1595.3 1495.6h0M1618.1 1508.9h0M1578.2 1499.4h0M1583.9 1496.7h0M1595.3 1522.4h0M1572.5 1507.5h0M1589.6 1511.5h0M1595.3 1492.2h0M1595.3 1510.5h0M1595.3 1520.4h0M1612.4 1498.4h0M1589.6 1513.5h0M1589.6 1523.5h0M1601 1511.7h0M1612.4 1492.8h0M1589.6 1491.3h0M1601 1523.7h0M1618.1 1516.2h0M1595.3 1514.2h0M1618.1 1494.9h0M1618.1 1508.3h0M1583.9 1524.1h0M1589.6 1499.9h0M1612.4 1491.1h0M1583.9 1488.9h0M1606.7 1490.7h0" stroke="#000" stroke-width="11.2" stroke-linecap="round" fill="none"/>
<rect x="1566.7" y="1601.8" width="57.2" height="7" fill="#3ec3ef"/>
<rect x="1658.5" y="1497" width="45.6" height="125" fill="#000"/>
<path d="M1681.5 1092h0M1670.3 1207.9h0M1692.6 1206.2h0M1681.4 1266.3h0M1681.4 1282h0M1659 1293.3h0M1681.4 1293.3h0M1703.9 1293.3h0M1670.2 1325.3h0M1692.6 1325.3h0M1681.4 1352.2h0M1658.5 1497.6h0M1704.1 1497h0M1658.5 1501.5h0M1704.1 1501.2h0M1658.5 1507h0M1704.1 1507h0M1658.5 1512.4h0M1704.1 1511.7h0M1658.5 1516.8h0M1704.1 1517.8h0M1658.5 1521.5h0M1704.1 1523h0M1658.5 1527.8h0M1704.1 1528h0M1658.5 1532.9h0M1704.1 1531.5h0M1658.5 1537.6h0M1704.1 1537.2h0M1658.5 1541.4h0M1704.1 1543h0M1658.5 1547.3h0M1704.1 1547.6h0M1658.5 1552.1h0M1704.1 1551.2h0M1658.5 1557.7h0M1704.1 1556.4h0M1658.5 1561.5h0M1704.1 1562.2h0M1658.5 1566.4h0M1704.1 1566.9h0M1658.5 1572.4h0M1704.1 1571.2h0M1658.5 1577.3h0M1704.1 1576.2h0M1658.5 1582h0M1704.1 1582.3h0M1658.5 1587.4h0M1704.1 1586.1h0M1658.5 1591.4h0M1704.1 1592.9h0M1658.5 1596.8h0M1704.1 1596.8h0M1658.5 1601.7h0M1704.1 1602.4h0M1658.5 1607.5h0M1704.1 1607.3h0M1658.5 1611.8h0M1704.1 1612.1h0M1658.5 1617h0M1704.1 1616.4h0M1658.5 1622.9h0M1704.1 1622.9h0M1669.9 1497h0M1681.3 1497h0M1692.7 1497h0M1658.5 1622h0M1669.9 1622h0M1681.3 1622h0M1692.7 1622h0M1704.1 1622h0M1658.5 1636h0M1664.2 1636h0M1669.9 1636h0M1675.6 1636h0M1681.3 1636h0M1687 1636h0M1692.7 1636h0M1698.4 1636h0M1704.1 1636h0M1681.3 1464.9h0M1681.3 1428.7h0M1692.7 1432.1h0M1681.3 1440.2h0M1669.9 1460.1h0M1692.7 1467.8h0M1675.6 1489.9h0M1681.3 1453.3h0M1669.9 1429.8h0M1669.9 1442.1h0M1681.3 1374.9h0M1658.5 1436.2h0M1681.3 1477.7h0M1704.1 1442.2h0M1669.9 1485.7h0M1704.1 1430.1h0M1669.9 1471.7h0M1658.5 1475.5h0M1692.7 1479.4h0M1692.7 1453.3h0M1692.7 1438.2h0M1704.1 1426.5h0M1704.1 1459.8h0M1681.3 1404.1h0M1658.5 1455.2h0M1658.5 1442.5h0M1658.5 1423.8h0M1692.7 1399.4h0M1664.2 1428h0M1658.5 1466.9h0M1692.7 1378.2h0M1698.4 1434.4h0M1698.4 1432.2h0M1669.9 1403h0M1704.1 1397.7h0M1664.2 1487.2h0M1692.7 1411.6h0M1681.3 1421.3h0M1675.6 1450h0M1692.7 1437.8h0M1658.5 1455.9h0M1692.7 1364.6h0M1658.5 1451.6h0M1704.1 1444.1h0M1681.3 1428.8h0M1658.5 1467h0M1658.5 1486.6h0M1704.1 1477.9h0M1681.3 1452.7h0M1675.6 1444h0M1664.2 1457.9h0M1669.9 1377.4h0M1658.5 1395.4h0M1681.3 1363.6h0M1704.1 1385.1h0M1658.5 1375.8h0M1658.5 1439h0M1658.5 1444.2h0M1658.5 1409.3h0M1664.2 1454.8h0M1669.9 1455.5h0M1664.2 1422.7h0M1669.9 1356.9h0M1675.6 1443.9h0M1675.6 1442.3h0M1681.3 1477.3h0M1698.4 1481h0M1669.9 1397.4h0M1669.9 1423.4h0M1681.3 1425.5h0M1687 1426.8h0M1658.5 1455h0M1681.3 1497.4h0M1687 1461.8h0M1698.4 1495.6h0M1664.2 1422h0M1692.7 1476.8h0M1658.5 1364.5h0M1658.5 1461.4h0M1664.2 1427.2h0M1704.1 1357.4h0M1692.7 1471.4h0M1658.5 1491.8h0M1675.6 1494.9h0M1687 1493.2h0M1669.9 1493.9h0M1681.3 1400.2h0M1681.3 1399.3h0M1692.7 1408.2h0M1681.3 1425.1h0M1681.3 1435.6h0M1664.2 1466.9h0M1681.3 1392h0M1681.3 1480.4h0M1692.7 1421.5h0M1704.1 1450.6h0M1675.6 1497.5h0M1692.7 1495.1h0M1664.2 1461.5h0M1669.9 1453.2h0M1704.1 1451.5h0M1687 1376.2h0M1681.3 1442h0M1669.9 1439.3h0M1704.1 1369.5h0M1681.3 1427.8h0M1675.6 1431h0M1698.4 1449.5h0M1664.2 1398.4h0M1681.3 1434.9h0M1692.7 1387h0M1692.7 1454h0M1664.2 1425h0M1681.3 1445.7h0M1692.7 1489.1h0" stroke="#000" stroke-width="11.2" stroke-linecap="round" fill="none"/>
<rect x="1652.7" y="1560.3" width="57.2" height="7" fill="#3ec3ef"/>
<rect x="1744.3" y="1530" width="45.6" height="92" fill="#767b7e"/>
<path d="M1743.8 1110.3h0M1743.8 1121.3h0M1759.4 1105.3h0M1759.4 1113.3h0M1767.8 1100.3h0M1775.3 1102.3h0M1775.3 1114.3h0M1777.7 1125.3h0M1790.7 1108.3h0M1790.7 1114.3h0M1756.2 1132.2h0M1756.2 1145.2h0M1778.1 1140.2h0M1767.4 1162.7h0M1767.4 1173.5h0M1756.2 1180h0M1778.1 1179.5h0M1767.4 1189.4h0M1790.7 1189h0M1743.8 1196h0M1778.1 1202.6h0M1756.2 1211h0M1778.1 1217h0M1744.3 1529.8h0M1789.9 1530.3h0M1744.3 1534.9h0M1789.9 1535.8h0M1744.3 1540.5h0M1789.9 1540.4h0M1744.3 1545.8h0M1789.9 1544.7h0M1744.3 1550.3h0M1789.9 1550.9h0M1744.3 1555.5h0M1789.9 1554.4h0M1744.3 1559.5h0M1789.9 1560.6h0M1744.3 1565.6h0M1789.9 1564.5h0M1744.3 1569.7h0M1789.9 1570.5h0M1744.3 1575.3h0M1789.9 1574.6h0M1744.3 1580h0M1789.9 1580.9h0M1744.3 1584.3h0M1789.9 1584.7h0M1744.3 1590.3h0M1789.9 1589.7h0M1744.3 1595h0M1789.9 1594.9h0M1744.3 1599.2h0M1789.9 1600.8h0M1744.3 1605h0M1789.9 1604.7h0M1744.3 1610h0M1789.9 1610.6h0M1744.3 1614.1h0M1789.9 1614.8h0M1744.3 1620.2h0M1789.9 1619.5h0M1755.7 1530h0M1767.1 1530h0M1778.5 1530h0M1744.3 1622h0M1755.7 1622h0M1767.1 1622h0M1778.5 1622h0M1789.9 1622h0M1744.3 1636h0M1750 1636h0M1755.7 1636h0M1761.4 1636h0M1767.1 1636h0M1772.8 1636h0M1778.5 1636h0M1784.2 1636h0M1789.9 1636h0M1767.1 1436.7h0M1767.1 1527.3h0M1767.1 1240.7h0M1767.1 1261h0M1784.2 1533.6h0M1767.1 1312.5h0M1767.1 1478.4h0M1755.7 1523.4h0M1767.1 1491.9h0M1767.1 1460h0M1767.1 1509.9h0M1755.7 1447.1h0M1778.5 1467.9h0M1778.5 1270.9h0M1767.1 1417.7h0M1755.7 1514.1h0M1789.9 1521.2h0M1778.5 1419.6h0M1755.7 1266.5h0M1778.5 1442.3h0M1778.5 1485.9h0M1778.5 1506.2h0M1767.1 1300h0M1744.3 1505h0M1772.8 1522h0M1767.1 1375h0M1755.7 1431.8h0M1755.7 1371h0M1755.7 1468.2h0M1789.9 1512.7h0M1761.4 1514.8h0M1755.7 1482.5h0M1767.1 1343.9h0M1778.5 1453.4h0M1750 1525.8h0M1755.7 1322.5h0M1772.8 1520h0M1744.3 1461.5h0M1767.1 1358.1h0M1767.1 1279h0M1744.3 1449.5h0M1778.5 1247.7h0M1744.3 1482.6h0M1778.5 1301.4h0M1755.7 1506.6h0M1789.9 1479.5h0M1750 1526.4h0M1778.5 1378.1h0M1778.5 1334.8h0M1784.2 1469.3h0M1772.8 1478.7h0M1789.9 1465.1h0M1744.3 1513.5h0M1789.9 1271.4h0M1761.4 1474.3h0M1755.7 1413.6h0M1744.3 1273.6h0M1750 1530.9h0M1744.3 1425.7h0M1755.7 1310.2h0M1755.7 1509.7h0M1761.4 1481.8h0M1784.2 1521.4h0M1744.3 1530.2h0M1761.4 1520h0M1767.1 1390.4h0M1789.9 1415.1h0M1750 1528.8h0M1755.7 1341.6h0M1755.7 1497.8h0M1750 1520.3h0M1755.7 1531.1h0M1744.3 1301.9h0M1744.3 1516.7h0M1755.7 1468.7h0M1789.9 1307.5h0M1767.1 1485.6h0M1767.1 1307.5h0M1761.4 1504.7h0M1778.5 1365.3h0M1767.1 1224.9h0M1755.7 1516.9h0M1789.9 1344.8h0M1755.7 1299.3h0M1772.8 1511.1h0M1767.1 1510.3h0M1761.4 1475.5h0M1755.7 1463.5h0M1789.9 1369.8h0M1755.7 1523.5h0M1789.9 1523.6h0M1778.5 1350.7h0M1755.7 1252.1h0M1750 1522.1h0M1767.1 1419.1h0M1761.4 1525.8h0M1772.8 1419.6h0M1744.3 1532.8h0M1767.1 1507.1h0M1761.4 1460.7h0M1789.9 1302h0M1744.3 1510.1h0M1750 1479.4h0M1789.9 1516h0M1744.3 1336.5h0M1744.3 1261.6h0M1789.9 1500.8h0M1761.4 1509.7h0M1778.5 1342.6h0M1778.5 1261.9h0M1761.4 1533.4h0M1755.7 1494.9h0M1744.3 1340.4h0M1744.3 1365.3h0M1789.9 1305.4h0M1755.7 1383h0M1772.8 1471.8h0M1772.8 1465.9h0M1778.5 1318.3h0" stroke="#767b7e" stroke-width="11.2" stroke-linecap="round" fill="none"/>
<rect x="1738.5" y="1475.1" width="57.2" height="7" fill="#3ec3ef"/>
<rect x="1830.2" y="1466" width="45.6" height="156" fill="#767b7e"/>
<path d="M1853 1095.8h0M1853 1108.9h0M1829.9 1110.9h0M1829.9 1118.3h0M1876.4 1110.9h0M1876.4 1123.3h0M1841.9 1130.2h0M1853 1127.3h0M1863.8 1128.3h0M1830.2 1466h0M1875.8 1465.4h0M1830.2 1470.5h0M1875.8 1471.5h0M1830.2 1477h0M1875.8 1475.2h0M1830.2 1480h0M1875.8 1480.7h0M1830.2 1485.7h0M1875.8 1486.2h0M1830.2 1490.2h0M1875.8 1491.7h0M1830.2 1495.7h0M1875.8 1496.8h0M1830.2 1500.7h0M1875.8 1500.6h0M1830.2 1505.4h0M1875.8 1506.9h0M1830.2 1511.2h0M1875.8 1511.7h0M1830.2 1515.1h0M1875.8 1516.1h0M1830.2 1521.5h0M1875.8 1522h0M1830.2 1526.9h0M1875.8 1525.2h0M1830.2 1530.7h0M1875.8 1532h0M1830.2 1536.1h0M1875.8 1536.9h0M1830.2 1540.5h0M1875.8 1540.1h0M1830.2 1546.9h0M1875.8 1545.5h0M1830.2 1551.1h0M1875.8 1550.7h0M1830.2 1556.2h0M1875.8 1556.9h0M1830.2 1561.9h0M1875.8 1561.8h0M1830.2 1565.5h0M1875.8 1566.6h0M1830.2 1570h0M1875.8 1570.8h0M1830.2 1576.9h0M1875.8 1575.5h0M1830.2 1580.7h0M1875.8 1581.2h0M1830.2 1585.5h0M1875.8 1586.4h0M1830.2 1591.3h0M1875.8 1590.2h0M1830.2 1596.8h0M1875.8 1595.1h0M1830.2 1601.4h0M1875.8 1600.7h0M1830.2 1605.3h0M1875.8 1605.2h0M1830.2 1612h0M1875.8 1611.6h0M1830.2 1615.9h0M1875.8 1616.6h0M1830.2 1621.9h0M1875.8 1621.9h0M1841.6 1466h0M1853 1466h0M1864.4 1466h0M1830.2 1622h0M1841.6 1622h0M1853 1622h0M1864.4 1622h0M1875.8 1622h0M1830.2 1636h0M1835.9 1636h0M1841.6 1636h0M1847.3 1636h0M1853 1636h0M1858.7 1636h0M1864.4 1636h0M1870.1 1636h0M1875.8 1636h0M1853 1219.5h0M1853 1395.5h0M1853 1272.4h0M1853 1139.7h0M1853 1409.3h0M1853 1158.3h0M1853 1345.6h0M1841.6 1403.9h0M1853 1422.8h0M1841.6 1272.5h0M1853 1373.2h0M1841.6 1341h0M1864.4 1369h0M1853 1325h0M1841.6 1375.7h0M1853 1237.3h0M1875.8 1464.1h0M1864.4 1389.4h0M1830.2 1398.3h0M1875.8 1395.5h0M1841.6 1391.5h0M1853 1446.8h0M1858.7 1455.9h0M1841.6 1362.4h0M1864.4 1408.3h0M1864.4 1424.4h0M1841.6 1429.9h0M1864.4 1445.7h0M1853 1305.5h0M1864.4 1237.7h0M1853 1289.3h0M1864.4 1391.6h0M1841.6 1147.2h0M1853 1466.3h0M1864.4 1356.1h0M1830.2 1379.4h0M1830.2 1414.4h0M1864.4 1144.4h0M1864.4 1388.4h0M1875.8 1381.1h0M1864.4 1268.3h0M1841.6 1468.8h0M1864.4 1312.4h0M1875.8 1413.7h0M1841.6 1445.7h0M1853 1469.5h0M1853 1183.1h0M1835.9 1456.2h0M1864.4 1156.9h0M1830.2 1433.4h0M1875.8 1432.5h0M1875.8 1454.4h0M1830.2 1445.7h0M1830.2 1412.4h0M1864.4 1291h0M1864.4 1397.6h0M1858.7 1447.5h0M1830.2 1461.6h0M1830.2 1407.2h0M1870.1 1437.4h0M1870.1 1443.2h0M1841.6 1220h0M1830.2 1423h0M1875.8 1451.5h0M1875.8 1425h0M1847.3 1408.6h0M1864.4 1178.2h0M1870.1 1429.8h0M1847.3 1400.8h0M1847.3 1432.8h0M1864.4 1327.4h0M1847.3 1423.3h0M1864.4 1425.7h0M1875.8 1466.6h0M1841.6 1457.6h0M1841.6 1178.6h0M1830.2 1363.2h0M1847.3 1426.4h0M1841.6 1418.8h0M1875.8 1353.3h0M1858.7 1442.8h0M1841.6 1239.5h0M1875.8 1387h0M1835.9 1385.9h0M1858.7 1466.5h0M1875.8 1372.5h0M1864.4 1342.8h0M1853 1208.1h0M1830.2 1239.4h0M1847.3 1389.8h0M1870.1 1405.1h0M1841.6 1199.5h0M1830.2 1140.9h0M1864.4 1440.1h0M1853 1375.2h0M1870.1 1363.1h0M1870.1 1452.8h0M1870.1 1410.9h0M1875.8 1367.4h0M1870.1 1451.2h0M1835.9 1455h0M1875.8 1337.9h0M1853 1435.8h0M1875.8 1378.2h0M1841.6 1466.6h0M1841.6 1316.6h0M1853 1457.2h0M1858.7 1410.5h0M1870.1 1450.5h0M1841.6 1455.2h0M1875.8 1311.6h0M1858.7 1447.2h0M1830.2 1176.9h0M1847.3 1459.7h0M1841.6 1283.9h0M1853 1370h0M1841.6 1305.2h0M1864.4 1432.7h0M1853 1363.3h0M1870.1 1355.8h0M1875.8 1187.2h0M1875.8 1242.3h0M1835.9 1388.9h0M1864.4 1219.3h0M1835.9 1180.9h0M1847.3 1430.2h0M1870.1 1410.5h0M1875.8 1273h0M1841.6 1379.3h0M1847.3 1426.6h0M1830.2 1271.3h0M1830.2 1349.4h0M1830.2 1353.8h0M1853 1383.2h0M1835.9 1430h0M1830.2 1217h0M1830.2 1154.2h0M1875.8 1443.9h0M1870.1 1448.5h0M1847.3 1443.6h0M1875.8 1140.2h0M1830.2 1313.4h0M1835.9 1461.3h0M1853 1340.2h0M1830.2 1283.1h0M1875.8 1208.5h0M1875.8 1467.9h0M1841.6 1281.7h0M1875.8 1156.5h0M1841.6 1329.2h0M1841.6 1453.4h0M1864.4 1340.4h0M1835.9 1403.8h0M1864.4 1459.9h0M1835.9 1424.6h0M1830.2 1329.9h0M1835.9 1458.1h0M1875.8 1385.6h0M1853 1260.3h0M1875.8 1182.1h0M1870.1 1420.9h0M1858.7 1436.2h0M1864.4 1414.5h0M1830.2 1154.2h0M1875.8 1209.5h0M1858.7 1312.2h0M1847.3 1395.7h0M1847.3 1391.4h0M1830.2 1442.3h0M1830.2 1415.9h0M1853 1351h0M1835.9 1416.7h0M1847.3 1398h0M1847.3 1462.3h0M1853 1361.9h0M1847.3 1411.2h0" stroke="#767b7e" stroke-width="11.2" stroke-linecap="round" fill="none"/>
<rect x="1824.4" y="1526" width="57.2" height="7" fill="#3ec3ef"/>
<rect x="1916.2" y="1491" width="45.6" height="131" fill="#767b7e"/>
<path d="M1938.8 1155.6h0M1914.6 1180.9h0M1938.8 1178.1h0M1962.4 1180.9h0M1938.8 1203.4h0M1925.8 1231.5h0M1950 1223h0M1914.6 1239.9h0M1938.8 1237.1h0M1914.6 1253.9h0M1962.4 1253.9h0M1938.8 1265.2h0M1916.2 1305h0M1927.6 1303h0M1939 1304h0M1950.4 1302h0M1961.8 1306h0M1916.2 1492h0M1961.8 1491.8h0M1916.2 1496.9h0M1961.8 1496.9h0M1916.2 1500.5h0M1961.8 1501.9h0M1916.2 1505.8h0M1961.8 1506.3h0M1916.2 1510.4h0M1961.8 1511.2h0M1916.2 1515.7h0M1961.8 1515.2h0M1916.2 1521.9h0M1961.8 1521.7h0M1916.2 1526.6h0M1961.8 1525.9h0M1916.2 1531.9h0M1961.8 1531.2h0M1916.2 1535.7h0M1961.8 1536.5h0M1916.2 1541.8h0M1961.8 1541.8h0M1916.2 1546.4h0M1961.8 1546.8h0M1916.2 1551.7h0M1961.8 1550.4h0M1916.2 1555.3h0M1961.8 1555.2h0M1916.2 1561.6h0M1961.8 1561.2h0M1916.2 1565.8h0M1961.8 1565.7h0M1916.2 1572h0M1961.8 1570.6h0M1916.2 1576.8h0M1961.8 1576.6h0M1916.2 1581.7h0M1961.8 1581.5h0M1916.2 1585.3h0M1961.8 1586.1h0M1916.2 1590.5h0M1961.8 1590.6h0M1916.2 1595.4h0M1961.8 1596.1h0M1916.2 1601.8h0M1961.8 1600.6h0M1916.2 1606.1h0M1961.8 1605.3h0M1916.2 1610.6h0M1961.8 1610.7h0M1916.2 1615.8h0M1961.8 1616.5h0M1916.2 1621h0M1961.8 1620.1h0M1927.6 1491h0M1939 1491h0M1950.4 1491h0M1916.2 1622h0M1927.6 1622h0M1939 1622h0M1950.4 1622h0M1961.8 1622h0M1916.2 1636h0M1921.9 1636h0M1927.6 1636h0M1933.3 1636h0M1939 1636h0M1944.7 1636h0M1950.4 1636h0M1956.1 1636h0M1961.8 1636h0M1944.7 1489.6h0M1939 1390.7h0M1939 1462.7h0M1961.8 1480.2h0M1950.4 1397.2h0M1950.4 1472.9h0M1916.2 1484.7h0M1939 1292h0M1939 1441.2h0M1916.2 1487.6h0M1927.6 1471.5h0M1927.6 1460.5h0M1916.2 1466.2h0M1950.4 1461.1h0M1939 1353.4h0M1961.8 1455.8h0M1944.7 1459.6h0M1939 1325.8h0M1961.8 1485.2h0M1927.6 1443.7h0M1950.4 1441h0M1939 1477.4h0M1939 1404.7h0M1916.2 1449.9h0M1939 1367.1h0M1961.8 1292.2h0M1927.6 1463.8h0M1916.2 1477.6h0M1950.4 1451.5h0M1950.4 1474.2h0M1927.6 1403.4h0M1961.8 1395.9h0M1956.1 1454.4h0M1944.7 1464.9h0M1916.2 1478.7h0M1916.2 1407.1h0M1944.7 1451h0M1944.7 1453.7h0M1927.6 1271.5h0M1944.7 1471.3h0M1956.1 1453h0M1950.4 1408.8h0M1956.1 1470.2h0M1939 1378.2h0M1939 1466.4h0M1961.8 1411.3h0M1927.6 1472.7h0M1933.3 1462.9h0M1927.6 1382.9h0M1927.6 1396.8h0M1950.4 1360.6h0M1927.6 1349.8h0M1921.9 1412.1h0M1944.7 1453.1h0M1961.8 1467h0M1921.9 1449.8h0M1950.4 1281.4h0M1961.8 1437.8h0M1927.6 1493.2h0M1944.7 1466.5h0M1950.4 1440.9h0M1939 1421h0M1939 1462.8h0M1939 1278.7h0M1950.4 1453.1h0M1939 1465.4h0M1939 1450.5h0M1939 1481.3h0M1933.3 1492.5h0M1927.6 1362h0M1927.6 1429.8h0M1961.8 1457.9h0M1927.6 1324.6h0M1933.3 1468.4h0M1916.2 1351.7h0M1916.2 1418.9h0M1961.8 1456.4h0M1921.9 1467.1h0M1916.2 1394.6h0M1950.4 1449.8h0M1944.7 1488.5h0M1927.6 1477.5h0M1950.4 1323.2h0M1927.6 1450.2h0M1950.4 1398h0M1933.3 1465.2h0M1961.8 1352.5h0M1916.2 1324.9h0M1950.4 1346.9h0M1956.1 1407.6h0M1921.9 1466.6h0" stroke="#767b7e" stroke-width="11.2" stroke-linecap="round" fill="none"/>
<rect x="1910.4" y="1550.9" width="57.2" height="7" fill="#3ec3ef"/>
<defs>
<filter id="halo" x="-60%" y="-80%" width="220%" height="260%"><feGaussianBlur stdDeviation="14"/></filter>
<filter id="halo2" x="-60%" y="-80%" width="220%" height="260%"><feGaussianBlur stdDeviation="10"/></filter>
<filter id="glow" x="-30%" y="-30%" width="160%" height="160%"><feGaussianBlur stdDeviation="1.6"/></filter>
<linearGradient id="beam" x1="0" y1="0" x2="1" y2="0"><stop offset="0" stop-color="#b9a3e6"/><stop offset="1" stop-color="#6a3fbf"/></linearGradient>
</defs>
<text x="1.5" y="1900" font-size="35" font-weight="bold" >e</text>
<text x="84.3" y="2032.6" font-size="23"><tspan fill="#23925a">PAGFP-H2A</tspan>;<tspan fill="#c81b2b" dx="-1.5">mCherry-PCNA</tspan></text>
<text x="246.6" y="2059.2" font-size="22.6" text-anchor="middle" >(stably expressing cells)</text>
<text x="714.6" y="2069.6" font-size="23.3" text-anchor="middle" >+/- 1mM HU</text>
<text x="331.2" y="2103.5" font-size="23.3">photoactivate <tspan fill="#23925a">PAGFP-H2A stripe</tspan></text>
<text x="190.5" y="2171.5" font-size="31.3" text-anchor="middle" >PCNA foci</text>
<text x="190.5" y="2208.2" font-size="31.3" text-anchor="middle" fill="#c81b2b" >positive cells</text>
<text x="194" y="2262" font-size="31.3" text-anchor="middle" >PCNA foci</text>
<text x="194.3" y="2298.3" font-size="31.2" text-anchor="middle" >negative cells</text>
<path d="M299.3 2178C299.3 2148.6 315.1 2141.3 352 2141.3C378.9 2141.3 401 2153.2 401 2171C401 2195.2 379.5 2210.1 358 2210.1C322.8 2210.1 299.3 2202.1 299.3 2178Z" fill="#f3a3a3" opacity="0.75" filter="url(#halo)"/>
<path d="M299.3 2178C299.3 2148.6 315.1 2141.3 352 2141.3C378.9 2141.3 401 2153.2 401 2171C401 2195.2 379.5 2210.1 358 2210.1C322.8 2210.1 299.3 2202.1 299.3 2178Z" fill="none" stroke="#f39a6e" stroke-width="6" opacity="0.7" filter="url(#glow)"/>
<path d="M299.3 2178C299.3 2148.6 315.1 2141.3 352 2141.3C378.9 2141.3 401 2153.2 401 2171C401 2195.2 379.5 2210.1 358 2210.1C322.8 2210.1 299.3 2202.1 299.3 2178Z" fill="#d1d3d6" stroke="#1b1b1b" stroke-width="1.9"/>
<ellipse cx="360" cy="2174" rx="33" ry="25.3" fill="#f5a5a8" stroke="#e1262d" stroke-width="2.8"/>
<ellipse cx="339.6" cy="2160.7" rx="1.5" ry="2.4" fill="#c71f2a"/>
<ellipse cx="347.8" cy="2161.2" rx="1.5" ry="2.4" fill="#c71f2a"/>
<ellipse cx="356.5" cy="2156.4" rx="1.5" ry="2.4" fill="#c71f2a"/>
<ellipse cx="365.7" cy="2156.9" rx="1.5" ry="2.4" fill="#c71f2a"/>
<ellipse cx="360.3" cy="2163.1" rx="1.5" ry="2.4" fill="#c71f2a"/>
<ellipse cx="372.9" cy="2167.5" rx="1.5" ry="2.4" fill="#c71f2a"/>
<ellipse cx="382.6" cy="2162.7" rx="1.5" ry="2.4" fill="#c71f2a"/>
<ellipse cx="342" cy="2170.4" rx="1.5" ry="2.4" fill="#c71f2a"/>
<ellipse cx="360.3" cy="2170.9" rx="1.5" ry="2.4" fill="#c71f2a"/>
<ellipse cx="385.5" cy="2174.7" rx="1.5" ry="2.4" fill="#c71f2a"/>
<ellipse cx="352.6" cy="2177.1" rx="1.5" ry="2.4" fill="#c71f2a"/>
<ellipse cx="370" cy="2178.1" rx="1.5" ry="2.4" fill="#c71f2a"/>
<ellipse cx="360.3" cy="2183.9" rx="1.5" ry="2.4" fill="#c71f2a"/>
<ellipse cx="346.3" cy="2186.3" rx="1.5" ry="2.4" fill="#c71f2a"/>
<ellipse cx="353.6" cy="2191.2" rx="1.5" ry="2.4" fill="#c71f2a"/>
<ellipse cx="371" cy="2189.7" rx="1.5" ry="2.4" fill="#c71f2a"/>
<path d="M296.4 2263C296.4 2235.8 311.9 2229 348 2229C375.8 2229 398.6 2240.6 398.6 2258C398.6 2282.6 376.3 2297.6 354 2297.6C319.4 2297.6 296.4 2288.9 296.4 2263Z" fill="#f5b4ab" opacity="0.6" filter="url(#halo2)"/>
<path d="M296.4 2263C296.4 2235.8 311.9 2229 348 2229C375.8 2229 398.6 2240.6 398.6 2258C398.6 2282.6 376.3 2297.6 354 2297.6C319.4 2297.6 296.4 2288.9 296.4 2263Z" fill="none" stroke="#f39a6e" stroke-width="6" opacity="0.7" filter="url(#glow)"/>
<path d="M296.4 2263C296.4 2235.8 311.9 2229 348 2229C375.8 2229 398.6 2240.6 398.6 2258C398.6 2282.6 376.3 2297.6 354 2297.6C319.4 2297.6 296.4 2288.9 296.4 2263Z" fill="#d1d3d6" stroke="#1b1b1b" stroke-width="1.9"/>
<ellipse cx="357.1" cy="2263.3" rx="31.6" ry="24.3" fill="#f9c4c5" stroke="#f4a4a7" stroke-width="3.6"/>
<path d="M527 2177C527 2149 543.5 2142 582 2142C608.1 2142 629.5 2155.2 629.5 2175C629.5 2197.2 610.8 2210.8 592 2210.8C553 2210.8 527 2202.4 527 2177Z" fill="#f3a3a3" opacity="0.75" filter="url(#halo)"/>
<path d="M527 2177C527 2149 543.5 2142 582 2142C608.1 2142 629.5 2155.2 629.5 2175C629.5 2197.2 610.8 2210.8 592 2210.8C553 2210.8 527 2202.4 527 2177Z" fill="none" stroke="#f39a6e" stroke-width="6" opacity="0.7" filter="url(#glow)"/>
<path d="M527 2177C527 2149 543.5 2142 582 2142C608.1 2142 629.5 2155.2 629.5 2175C629.5 2197.2 610.8 2210.8 592 2210.8C553 2210.8 527 2202.4 527 2177Z" fill="#d1d3d6" stroke="#1b1b1b" stroke-width="1.9"/>
<ellipse cx="587.3" cy="2174.8" rx="33.3" ry="25.6" fill="#f5a5a8" stroke="#e1262d" stroke-width="2.8"/>
<ellipse cx="566.7" cy="2161" rx="1.5" ry="2.4" fill="#c71f2a"/>
<ellipse cx="575.4" cy="2161.6" rx="1.5" ry="2.4" fill="#c71f2a"/>
<ellipse cx="583.5" cy="2156.7" rx="1.5" ry="2.4" fill="#c71f2a"/>
<ellipse cx="569.4" cy="2170.8" rx="1.5" ry="2.4" fill="#c71f2a"/>
<ellipse cx="579.7" cy="2177.9" rx="1.5" ry="2.4" fill="#c71f2a"/>
<ellipse cx="573.8" cy="2186" rx="1.5" ry="2.4" fill="#c71f2a"/>
<ellipse cx="581.3" cy="2192" rx="1.5" ry="2.4" fill="#c71f2a"/>
<ellipse cx="609" cy="2163.2" rx="1.5" ry="2.4" fill="#c71f2a"/>
<ellipse cx="600.9" cy="2167.5" rx="1.5" ry="2.4" fill="#c71f2a"/>
<ellipse cx="613.3" cy="2175.1" rx="1.5" ry="2.4" fill="#c71f2a"/>
<ellipse cx="598.2" cy="2178.9" rx="1.5" ry="2.4" fill="#c71f2a"/>
<ellipse cx="598.2" cy="2190.9" rx="1.5" ry="2.4" fill="#c71f2a"/>
<rect x="586.5" y="2149.3" width="7.5" height="51" rx="2.5" fill="#8dc473" stroke="#3f6d36" stroke-width="1.1"/>
<path d="M524.6 2261C524.6 2234 541.8 2227.2 582 2227.2C606.4 2227.2 626.4 2240.3 626.4 2260C626.4 2281.4 607.2 2294.5 588 2294.5C550 2294.5 524.6 2286.1 524.6 2261Z" fill="#f5b4ab" opacity="0.6" filter="url(#halo2)"/>
<path d="M524.6 2261C524.6 2234 541.8 2227.2 582 2227.2C606.4 2227.2 626.4 2240.3 626.4 2260C626.4 2281.4 607.2 2294.5 588 2294.5C550 2294.5 524.6 2286.1 524.6 2261Z" fill="none" stroke="#f39a6e" stroke-width="6" opacity="0.7" filter="url(#glow)"/>
<path d="M524.6 2261C524.6 2234 541.8 2227.2 582 2227.2C606.4 2227.2 626.4 2240.3 626.4 2260C626.4 2281.4 607.2 2294.5 588 2294.5C550 2294.5 524.6 2286.1 524.6 2261Z" fill="#d1d3d6" stroke="#1b1b1b" stroke-width="1.9"/>
<ellipse cx="584.3" cy="2261.5" rx="31.4" ry="24.3" fill="#f9c4c5" stroke="#f4a4a7" stroke-width="3.6"/>
<rect x="583.6" y="2237" width="7.6" height="51.6" rx="2.5" fill="#8dc473" stroke="#3f6d36" stroke-width="1.1"/>
<path d="M736.7 2184C736.7 2155.8 752.7 2148.7 790 2148.7C817.3 2148.7 839.7 2161.6 839.7 2181C839.7 2202.3 819.9 2215.4 800 2215.4C762 2215.4 736.7 2207.6 736.7 2184Z" fill="#f3a3a3" opacity="0.75" filter="url(#halo)"/>
<path d="M736.7 2184C736.7 2155.8 752.7 2148.7 790 2148.7C817.3 2148.7 839.7 2161.6 839.7 2181C839.7 2202.3 819.9 2215.4 800 2215.4C762 2215.4 736.7 2207.6 736.7 2184Z" fill="none" stroke="#f39a6e" stroke-width="6" opacity="0.7" filter="url(#glow)"/>
<path d="M736.7 2184C736.7 2155.8 752.7 2148.7 790 2148.7C817.3 2148.7 839.7 2161.6 839.7 2181C839.7 2202.3 819.9 2215.4 800 2215.4C762 2215.4 736.7 2207.6 736.7 2184Z" fill="#d1d3d6" stroke="#1b1b1b" stroke-width="1.9"/>
<ellipse cx="798" cy="2180.6" rx="33" ry="25.2" fill="#f5a5a8" stroke="#e1262d" stroke-width="2.8"/>
<rect x="797.6" y="2155.5" width="6.6" height="50" rx="2.5" fill="#8dc473" stroke="#3f6d36" stroke-width="1.1"/>
<path d="M734.7 2268C734.7 2240 749.8 2233 785 2233C813.8 2233 837.4 2246.2 837.4 2266C837.4 2288.5 816.7 2302.3 796 2302.3C759.2 2302.3 734.7 2293.7 734.7 2268Z" fill="#f5b4ab" opacity="0.6" filter="url(#halo2)"/>
<path d="M734.7 2268C734.7 2240 749.8 2233 785 2233C813.8 2233 837.4 2246.2 837.4 2266C837.4 2288.5 816.7 2302.3 796 2302.3C759.2 2302.3 734.7 2293.7 734.7 2268Z" fill="none" stroke="#f39a6e" stroke-width="6" opacity="0.7" filter="url(#glow)"/>
<path d="M734.7 2268C734.7 2240 749.8 2233 785 2233C813.8 2233 837.4 2246.2 837.4 2266C837.4 2288.5 816.7 2302.3 796 2302.3C759.2 2302.3 734.7 2293.7 734.7 2268Z" fill="#d1d3d6" stroke="#1b1b1b" stroke-width="1.9"/>
<ellipse cx="795.4" cy="2265.4" rx="32.2" ry="24.4" fill="#f9c4c5" stroke="#f4a4a7" stroke-width="3.6"/>
<rect x="795.3" y="2242.3" width="6.7" height="52.2" rx="2.5" fill="#8dc473" stroke="#3f6d36" stroke-width="1.1"/>
<path d="M432.2 2209.1H477.7V2203.1L501.2 2213.8L477.7 2224.5V2218.5H432.2Z" fill="#111"/>
<path d="M648.4 2209.3H695.1V2203.3L718.6 2214L695.1 2224.7V2218.7H648.4Z" fill="#111"/>
<g transform="translate(518.4,2109.5) rotate(24.3)"><rect x="0" y="-3.8" width="36.9" height="7.6" rx="2.5" fill="#4c4c4e"/><rect x="33.9" y="-3.8" width="3" height="7.6" rx="1.2" fill="#333"/></g>
<path d="M552 2124.7L587.5 2137.2L583.5 2145Z" fill="url(#beam)"/>
<g transform="translate(517.4,2324.8) rotate(-26.3)"><rect x="0" y="-3.8" width="37.5" height="7.6" rx="2.5" fill="#4c4c4e"/><rect x="34.5" y="-3.8" width="3" height="7.6" rx="1.2" fill="#333"/></g>
<path d="M551 2308.2L586 2291L584.2 2297.5Z" fill="url(#beam)"/>
<path d="M714.6 2087.2L723.4 2089.8M718.8 2089L717.8 2093.6" stroke="#1d8fca" stroke-width="3.4"/>
<path d="M705.7 2092.2L708.6 2093.7L720.7 2096.8L721.9 2106.7L720.7 2112.5L711.5 2127L707.7 2129.4L703.3 2130.9L700.9 2128L700.9 2120.7L703.8 2114.4L708.6 2103.3L709.1 2097.5L705 2094Z" fill="#2a5d80"/>
<path d="M703.8 2129.8L697 2145.4" stroke="#24506e" stroke-width="3.2" stroke-linecap="round"/>
<path d="M696.2 2148.5L691.3 2161.8" stroke="#2f7097" stroke-width="1.5"/>
<text transform="translate(125.2,2435) scale(1.060,1.000)" font-size="33.6" >+/-HU</text>
<line x1="126" y1="2439.3" x2="218.4" y2="2439.3" stroke="#000" stroke-width="2.2" stroke-linecap="butt"/>
<line x1="172.1" y1="2461.1" x2="172.1" y2="2531" stroke="#000" stroke-width="4" stroke-dasharray="7.9 7.7"/>
<path d="M153.8 2525.1L172.1 2531.4L190.5 2525.1L172.1 2558.5Z" fill="#000"/>
<line x1="174.4" y1="2601.3" x2="768" y2="2601.3" stroke="#000" stroke-width="3.2" stroke-linecap="butt"/>
<path d="M759.7 2583.5L792.3 2601.1L759.7 2618.5L765.7 2601.1Z" fill="#000"/>
<line x1="174.4" y1="2572" x2="174.4" y2="2629.3" stroke="#000" stroke-width="3.6" stroke-linecap="butt"/>
<text transform="translate(172.1,2657.2) scale(1.100,1.000)" font-size="27.3" text-anchor="middle" >0</text>
<line x1="266.7" y1="2572" x2="266.7" y2="2629.3" stroke="#000" stroke-width="3.6" stroke-linecap="butt"/>
<text transform="translate(266.8,2657.2) scale(1.100,1.000)" font-size="27.3" text-anchor="middle" >10</text>
<line x1="358.5" y1="2572" x2="358.5" y2="2629.3" stroke="#000" stroke-width="3.6" stroke-linecap="butt"/>
<text transform="translate(359.6,2657.2) scale(1.100,1.000)" font-size="27.3" text-anchor="middle" >20</text>
<line x1="450.2" y1="2572" x2="450.2" y2="2629.3" stroke="#000" stroke-width="3.6" stroke-linecap="butt"/>
<text transform="translate(451.3,2657.2) scale(1.100,1.000)" font-size="27.3" text-anchor="middle" >30</text>
<line x1="542.3" y1="2572" x2="542.3" y2="2629.3" stroke="#000" stroke-width="3.6" stroke-linecap="butt"/>
<text transform="translate(539.1,2657.2) scale(1.100,1.000)" font-size="27.3" text-anchor="middle" >40</text>
<line x1="634" y1="2572" x2="634" y2="2629.3" stroke="#000" stroke-width="3.6" stroke-linecap="butt"/>
<text transform="translate(635,2657.2) scale(1.100,1.000)" font-size="27.3" text-anchor="middle" >50</text>
<line x1="725.8" y1="2572" x2="725.8" y2="2629.3" stroke="#000" stroke-width="3.6" stroke-linecap="butt"/>
<text transform="translate(725.6,2657.2) scale(1.100,1.000)" font-size="27.3" text-anchor="middle" >60</text>
<text x="824.5" y="2609.8" font-size="35" font-style="italic" stroke="#000" stroke-width="1.3">t</text>
<text x="834" y="2609.8" font-size="23" font-style="italic" textLength="49.5" lengthAdjust="spacingAndGlyphs">(min)</text>
<text x="167.6" y="2702" font-size="30.75" >Image every 10 mins</text>
</svg>
</body></html>
